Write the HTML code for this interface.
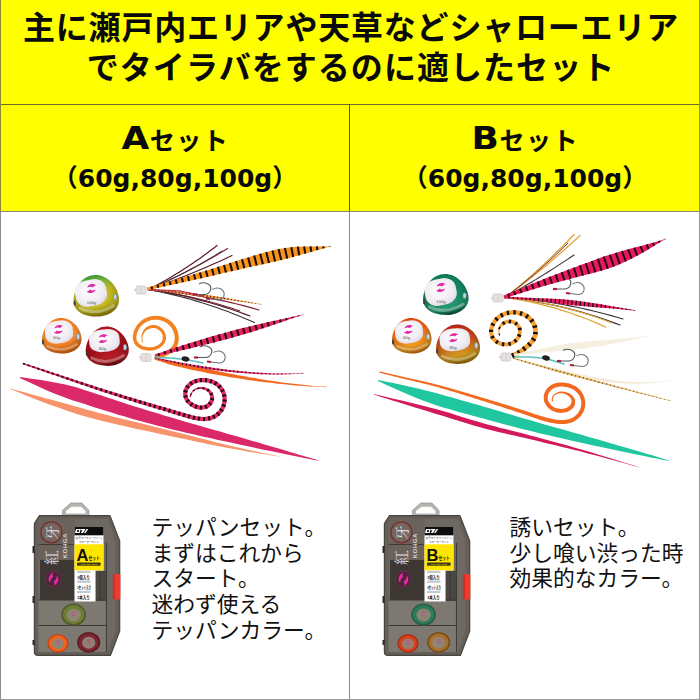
<!DOCTYPE html>
<html lang="ja"><head><meta charset="utf-8">
<style>
html,body{margin:0;padding:0;}
body{width:700px;height:700px;overflow:hidden;background:#fff;position:relative;font-family:"Liberation Sans","Noto Sans CJK JP",sans-serif;color:#0a0a0a;}
#hdr{position:absolute;left:0;top:0;width:700px;height:211px;background:#ffff00;}
.hl{position:absolute;left:0;width:700px;height:1px;background:#6b6b2a;}
.vl{position:absolute;width:1px;background:#777;}
.t1{position:absolute;left:0;width:700px;text-align:center;font-weight:700;font-size:32px;line-height:40px;white-space:nowrap;letter-spacing:0px;}
.sh{position:absolute;width:350px;margin-left:1px;text-align:center;font-weight:700;white-space:nowrap;}
.sh .big{font-size:32px;display:inline-block;transform:scaleX(1.12);margin-right:2px;font-family:"DejaVu Sans","Liberation Sans","Noto Sans CJK JP",sans-serif;}
.sh .kana{font-size:25px;letter-spacing:1.5px;position:relative;top:1px;}
.sub{position:absolute;width:350px;text-align:center;font-weight:700;font-size:25px;white-space:nowrap;font-family:"DejaVu Sans","Liberation Sans","Noto Sans CJK JP",sans-serif;}
.desc{position:absolute;font-size:21.75px;line-height:25.7px;white-space:nowrap;font-weight:400;color:#111;}
</style></head><body>
<div id="hdr"></div>
<div class="t1" style="top:8px;letter-spacing:0.8px;left:1px">主に瀬戸内エリアや天草などシャローエリア</div>
<div class="t1" style="top:48px;letter-spacing:1.05px;left:1px">でタイラバをするのに適したセット</div>
<div class="hl" style="top:104px"></div>
<div class="hl" style="top:211px;background:#8a8a6a"></div>
<div class="vl" style="left:349px;top:104px;height:107px;background:#55552a"></div><div class="vl" style="left:349px;top:211px;height:489px;background:#8a8a8a"></div>
<div class="vl" style="left:0;top:0;height:211px;background:#8a8a30"></div><div class="vl" style="left:0;top:211px;height:489px;background:#8c8c8c"></div>
<div class="vl" style="left:698.5px;top:0;height:211px;width:1.5px;background:#9a9a30"></div><div class="vl" style="left:698.5px;top:211px;height:489px;width:1.5px;background:#999"></div>
<div class="hl" style="top:699px;background:#999"></div>

<svg id="art" width="700" height="700" viewBox="0 0 700 700" style="position:absolute;left:0;top:0">
<defs>
<radialGradient id="decal" cx="0.45" cy="0.4" r="0.7"><stop offset="0" stop-color="#ffffff"/><stop offset="0.7" stop-color="#eeeaf2"/><stop offset="1" stop-color="#d9d3de"/></radialGradient>
<linearGradient id="gGreen" x1="0.3" y1="0" x2="0.55" y2="1"><stop offset="0" stop-color="#2c963a"/><stop offset="0.2" stop-color="#78b436"/><stop offset="0.42" stop-color="#c2b81e"/><stop offset="0.78" stop-color="#ccbf26"/><stop offset="1" stop-color="#9c8c08"/></linearGradient>
<linearGradient id="gOrange" x1="0.3" y1="0" x2="0.55" y2="1"><stop offset="0" stop-color="#f47a1c"/><stop offset="0.6" stop-color="#ff9234"/><stop offset="1" stop-color="#e8690e"/></linearGradient>
<linearGradient id="gRed" x1="0.3" y1="0" x2="0.55" y2="1"><stop offset="0" stop-color="#b8161e"/><stop offset="0.6" stop-color="#a50f18"/><stop offset="0.85" stop-color="#c4232c"/><stop offset="1" stop-color="#7a0a10"/></linearGradient>
<linearGradient id="gTeal" x1="0.3" y1="0" x2="0.55" y2="1"><stop offset="0" stop-color="#0f7a56"/><stop offset="0.6" stop-color="#168a64"/><stop offset="0.85" stop-color="#2aa57c"/><stop offset="1" stop-color="#0a5a40"/></linearGradient>
<linearGradient id="gOrange2" x1="0.3" y1="0" x2="0.55" y2="1"><stop offset="0" stop-color="#e8400e"/><stop offset="0.45" stop-color="#f0701a"/><stop offset="0.8" stop-color="#f5a01e"/><stop offset="1" stop-color="#d8780e"/></linearGradient>
<linearGradient id="gRedGold" x1="0.3" y1="0" x2="0.55" y2="1"><stop offset="0" stop-color="#b8201a"/><stop offset="0.45" stop-color="#c8501a"/><stop offset="0.8" stop-color="#d8a020"/><stop offset="1" stop-color="#a87808"/></linearGradient>
<radialGradient id="shade" cx="0.45" cy="0.4" r="0.62"><stop offset="0.55" stop-color="#000" stop-opacity="0"/><stop offset="1" stop-color="#000" stop-opacity="0.28"/></radialGradient>
<g id="logo" fill="#e22aa8" transform="scale(1 1.12)"><path d="M-4.2 -0.8 C-3.6 -4 1.6 -5 4.8 -2.6 C3.4 -2.7 2.2 -2.2 1.6 -0.9 C0 -1.9 -2.2 -1.8 -4.2 -0.8Z"/><path d="M4 0.9 C3.4 4.1 -1.8 5.1 -5 2.7 C-3.6 2.8 -2.4 2.3 -1.8 1 C-0.2 2 2 1.9 4 0.9Z"/></g>
</defs>

<g>
<path d="M10.4 389 L12.7 390 L15.5 391.1 L18.9 392.5 L22.6 394 L26.7 395.7 L31 397.5 L35.6 399.2 L40.1 401 L44.7 402.8 L49.2 404.4 L53.6 406 L58.1 407.6 L62.5 409.1 L67.1 410.7 L71.8 412.3 L76.7 413.9 L81.9 415.4 L87.3 417 L93 418.6 L99.1 420.2 L105.7 421.8 L112.9 423.6 L120.5 425.3 L128.4 427.1 L136.5 428.9 L144.5 430.6 L152.5 432.3 L160.2 433.9 L167.6 435.5 L174.4 436.9 L180.8 438.3 L186.8 439.6 L192.6 440.8 L198.1 441.9 L203.5 443.1 L208.8 444.2 L214 445.2 L219.2 446.3 L224.4 447.3 L229.7 448.3 L235.3 449.3 L241.2 450.3 L247.3 451.4 L253.4 452.4 L259.3 453.4 L265 454.3 L270.3 455.2 L274.9 455.9 L278.9 456.6 L282 457.1 L282 456.9 L279 456.2 L275 455.4 L270.4 454.5 L265.2 453.4 L259.5 452.2 L253.6 451 L247.6 449.7 L241.6 448.3 L235.8 447 L230.3 445.7 L225 444.5 L219.9 443.2 L214.7 441.9 L209.6 440.6 L204.4 439.3 L199.1 437.9 L193.6 436.5 L187.9 435 L181.9 433.5 L175.6 431.9 L168.8 430.2 L161.5 428.4 L153.8 426.5 L145.9 424.6 L137.9 422.6 L129.9 420.7 L122.1 418.8 L114.5 416.9 L107.4 415.1 L100.9 413.4 L94.8 411.8 L89.2 410.3 L83.8 408.8 L78.7 407.3 L73.7 406 L69 404.6 L64.4 403.3 L59.8 402 L55.3 400.8 L50.8 399.6 L46.2 398.4 L41.4 397.1 L36.7 395.8 L32 394.5 L27.5 393.2 L23.3 392.1 L19.4 391 L15.9 390 L12.9 389.2 L10.6 388.6Z" fill="#f9936b"/>
<path d="M19.9 377.9 L23 379.4 L27.1 381.3 L31.9 383.6 L37.3 386.1 L43.2 388.7 L49.3 391.4 L55.5 394 L61.7 396.3 L67.6 398.5 L73 400.4 L78.2 402 L83.3 403.6 L88.3 405.2 L93.3 406.9 L98.3 408.4 L103.2 410 L108.1 411.6 L113.1 413.1 L118.1 414.7 L123.1 416.1 L128 417.6 L132.8 418.9 L137.4 420.3 L142.1 421.5 L146.7 422.8 L151.6 424.1 L156.6 425.4 L161.9 426.8 L167.5 428.2 L173.6 429.7 L180.2 431.3 L187.2 432.9 L194.6 434.6 L202.3 436.4 L210.1 438.1 L218.1 439.9 L226.1 441.6 L234 443.3 L241.8 445 L249.2 446.6 L256.8 448.2 L264.8 449.9 L273 451.6 L281.3 453.3 L289.3 454.9 L297 456.5 L304.1 458 L310.4 459.2 L315.8 460.3 L320 461.1 L320 460.9 L315.9 459.6 L310.7 458.1 L304.5 456.2 L297.6 454.2 L290.1 451.9 L282.2 449.6 L274.1 447.3 L266.1 444.9 L258.2 442.6 L250.8 440.4 L243.4 438.3 L235.8 436.1 L228 433.9 L220.2 431.6 L212.4 429.4 L204.6 427.2 L197.1 425 L189.8 422.9 L182.9 421 L176.4 419.1 L170.5 417.3 L164.9 415.7 L159.8 414.1 L154.8 412.6 L150.1 411.2 L145.5 409.8 L141 408.3 L136.4 406.9 L131.7 405.4 L126.9 403.9 L121.9 402.3 L117.1 400.7 L112.2 399.1 L107.3 397.5 L102.4 395.8 L97.4 394.2 L92.4 392.5 L87.4 390.9 L82.2 389.2 L77 387.6 L71.3 386.1 L65.2 384.6 L58.8 383.2 L52.1 381.9 L45.6 380.8 L39.2 379.8 L33.3 378.9 L28 378.2 L23.6 377.6 L20.1 377.1Z" fill="#da2868"/>
<path d="M23.5 364.6 L25 365 L26.4 365.5 L27.8 366 L29.2 366.5 L30.6 367 L32.1 367.5 L33.5 368 L34.9 368.5 L36.3 369 L37.7 369.5 L39.1 369.9 L40.6 370.4 L42 370.9 L43.4 371.4 L44.8 371.9 L46.2 372.4 L47.6 372.9 L49.1 373.4 L50.5 373.9 L51.9 374.4 L53.3 374.8 L54.7 375.3 L56.2 375.8 L57.6 376.3 L59 376.8 L60.4 377.3 L61.8 377.8 L63.2 378.3 L64.7 378.8 L66.1 379.3 L67.5 379.8 L68.9 380.3 L70.3 380.7 L71.7 381.2 L73.2 381.7 L74.6 382.2 L76 382.7 L77.4 383.2 L78.8 383.7 L80.2 384.2 L81.7 384.7 L83.1 385.2 L84.5 385.6 L85.9 386.1 L87.3 386.6 L88.8 387.1 L90.2 387.6 L91.6 388.1 L93 388.5 L94.5 389 L95.9 389.5 L97.3 390 L98.7 390.5 L100.1 390.9 L101.6 391.4 L103 391.9 L104.4 392.4 L105.8 392.8 L107.3 393.3 L108.7 393.8 L110.1 394.2 L111.6 394.7 L113 395.2 L114.4 395.6 L115.8 396.1 L117.3 396.5 L118.7 397 L120.1 397.5 L121.6 397.9 L123 398.4 L124.4 398.8 L125.8 399.3 L127.3 399.7 L128.7 400.2 L130.1 400.7 L131.6 401.1 L133 401.6 L134.4 402 L135.9 402.5 L137.3 402.9 L138.7 403.3 L140.2 403.8 L141.6 404.2 L143 404.7 L144.5 405.1 L145.9 405.6 L147.3 406 L148.8 406.4 L150.2 406.9 L151.7 407.3 L153.1 407.7 L154.5 408.2 L156 408.6 L157.4 409 L158.8 409.5 L160.3 409.9 L161.7 410.3 L163.1 410.8 L164.6 411.2 L166 411.6 L167.4 412.1 L168.9 412.5 L170.3 413 L171.7 413.4 L173.2 413.9 L174.6 414.3 L176 414.7 L177.5 415.2 L178.9 415.6 L180.3 416.1 L181.8 416.5 L183.2 416.9 L184.7 417.4 L186.1 417.8 L187.6 418.2 L189 418.6 L190.5 419 L192 419.4 L193.5 419.8 L195 420.1 L196.5 420.4 L198.1 420.6 L199.6 420.8 L201.2 421 L202.8 421.1 L204.4 421 L206 421 L207.6 420.8 L209.2 420.5 L210.8 420.2 L212.4 419.7 L213.9 419.1 L215.4 418.4 L216.9 417.5 L218.2 416.6 L219.5 415.5 L220.7 414.4 L221.8 413.1 L222.8 411.8 L223.7 410.4 L224.5 409 L225.2 407.4 L225.8 405.9 L226.2 404.3 L226.5 402.6 L226.7 401 L226.7 399.3 L226.7 397.7 L226.5 396 L226.1 394.4 L225.6 392.8 L225.1 391.2 L224.3 389.7 L223.5 388.3 L222.6 386.9 L221.5 385.6 L220.4 384.4 L219.1 383.3 L217.8 382.3 L216.4 381.4 L215 380.6 L213.5 379.9 L211.9 379.4 L210.4 378.9 L208.8 378.5 L207.2 378.3 L205.6 378.1 L204 378 L202.3 378 L200.7 378 L199.1 378.2 L197.5 378.5 L195.9 378.9 L194.3 379.4 L192.8 380 L191.3 380.8 L189.8 381.7 L188.5 382.7 L187.3 383.9 L186.1 385.2 L185.1 386.6 L184.3 388.2 L183.7 389.8 L183.3 391.5 L183.1 393.3 L183.2 395.1 L183.5 396.8 L184 398.5 L184.7 400.1 L185.6 401.6 L186.7 403 L187.9 404.2 L189.2 405.3 L190.5 406.3 L191.9 407.1 L193.4 407.9 L194.9 408.5 L196.5 409 L198.2 409.4 L199.8 409.7 L201.6 409.8 L203.3 409.6 L205.1 409.3 L206.8 408.7 L208.3 407.9 L209.8 406.9 L211.1 405.6 L212.3 404.3 L213.2 402.7 L213.8 401 L214.1 399.1 L214.1 397.3 L213.7 395.5 L213.1 393.8 L212.2 392.3 L211.1 390.9 L209.8 389.8 L208.4 388.8 L206.9 388.1 L205.3 387.6 L203.7 387.3 L202.1 387.1 L200.5 387.1 L198.9 387.3 L197.4 387.7 L195.9 388.3 L194.5 389.1 L193.2 390 L192.1 391.2 L191.2 392.5 L190.5 393.9 L189.9 395.4 L189.6 396.9 L189.6 397.3 L190.9 397.4 L190.9 397.1 L191.1 395.7 L191.6 394.4 L192.2 393.1 L193 392 L194 391 L195.2 390.2 L196.4 389.5 L197.8 389.2 L199.2 389 L200.6 389 L201.9 389.1 L203.3 389.4 L204.6 389.8 L205.8 390.4 L206.9 391.1 L207.9 392 L208.7 393 L209.4 394 L209.9 395.2 L210.2 396.3 L210.3 397.5 L210.1 398.7 L209.8 399.8 L209.4 400.8 L208.8 401.8 L208.1 402.8 L207.2 403.6 L206.2 404.3 L205.1 404.8 L203.9 405.2 L202.8 405.5 L201.5 405.6 L200.2 405.5 L199 405.3 L197.7 405 L196.4 404.6 L195.2 404.1 L194 403.5 L192.8 402.8 L191.7 402 L190.7 401.2 L189.9 400.2 L189.1 399.2 L188.4 398.2 L187.9 397 L187.5 395.9 L187.3 394.7 L187.3 393.5 L187.4 392.2 L187.7 391.1 L188.2 389.9 L188.7 388.8 L189.5 387.8 L190.3 386.8 L191.2 385.9 L192.3 385.1 L193.3 384.4 L194.5 383.8 L195.7 383.3 L197 382.9 L198.3 382.6 L199.7 382.4 L201 382.2 L202.4 382.2 L203.8 382.2 L205.2 382.3 L206.6 382.4 L207.9 382.6 L209.3 383 L210.6 383.4 L211.9 383.8 L213.1 384.4 L214.3 385 L215.4 385.7 L216.5 386.5 L217.5 387.4 L218.4 388.4 L219.2 389.4 L219.9 390.5 L220.6 391.7 L221.2 392.9 L221.7 394.1 L222 395.4 L222.3 396.7 L222.5 398 L222.5 399.4 L222.5 400.7 L222.4 402 L222.1 403.3 L221.8 404.6 L221.3 405.9 L220.8 407.1 L220.1 408.3 L219.4 409.4 L218.6 410.5 L217.7 411.4 L216.7 412.4 L215.7 413.2 L214.6 414 L213.5 414.6 L212.2 415.2 L211 415.7 L209.7 416.1 L208.4 416.4 L207 416.6 L205.7 416.8 L204.3 416.9 L202.9 416.9 L201.5 416.8 L200.1 416.7 L198.6 416.5 L197.2 416.3 L195.8 416 L194.4 415.7 L193 415.4 L191.5 415 L190.1 414.6 L188.7 414.2 L187.2 413.8 L185.8 413.4 L184.4 413 L182.9 412.6 L181.5 412.2 L180.1 411.8 L178.6 411.3 L177.2 410.9 L175.7 410.5 L174.3 410.1 L172.9 409.7 L171.4 409.2 L170 408.8 L168.5 408.4 L167.1 408 L165.7 407.6 L164.2 407.1 L162.8 406.7 L161.3 406.3 L159.9 405.9 L158.4 405.5 L157 405.1 L155.6 404.7 L154.1 404.2 L152.7 403.8 L151.2 403.4 L149.8 403 L148.4 402.6 L146.9 402.2 L145.5 401.8 L144 401.3 L142.6 400.9 L141.2 400.5 L139.7 400.1 L138.3 399.7 L136.8 399.2 L135.4 398.8 L134 398.4 L132.5 398 L131.1 397.5 L129.7 397.1 L128.2 396.7 L126.8 396.2 L125.4 395.8 L123.9 395.4 L122.5 394.9 L121.1 394.5 L119.6 394.1 L118.2 393.6 L116.8 393.2 L115.3 392.7 L113.9 392.3 L112.5 391.8 L111 391.4 L109.6 391 L108.2 390.5 L106.7 390.1 L105.3 389.6 L103.9 389.2 L102.4 388.7 L101 388.3 L99.6 387.8 L98.2 387.4 L96.7 386.9 L95.3 386.4 L93.9 386 L92.4 385.5 L91 385.1 L89.6 384.6 L88.2 384.1 L86.7 383.7 L85.3 383.2 L83.9 382.7 L82.5 382.3 L81 381.8 L79.6 381.3 L78.2 380.9 L76.8 380.4 L75.3 379.9 L73.9 379.5 L72.5 379 L71.1 378.5 L69.6 378.1 L68.2 377.6 L66.8 377.1 L65.4 376.7 L64 376.2 L62.5 375.7 L61.1 375.2 L59.7 374.8 L58.3 374.3 L56.8 373.8 L55.4 373.4 L54 372.9 L52.6 372.4 L51.1 371.9 L49.7 371.5 L48.3 371 L46.9 370.5 L45.4 370.1 L44 369.6 L42.6 369.1 L41.2 368.7 L39.7 368.2 L38.3 367.7 L36.9 367.3 L35.5 366.8 L34 366.3 L32.6 365.9 L31.2 365.4 L29.8 364.9 L28.3 364.4 L26.9 364 L25.5 363.5 L24.1 363Z" fill="#e62a68"/>
<path d="M23.5 364.6L24.1 363M28.4 366.2L28.9 364.6M33.2 367.9L33.7 366.2M38 369.6L38.6 367.8M42.8 371.2L43.4 369.4M47.6 372.9L48.3 371M52.5 374.6L53.1 372.6M57.3 376.2L58 374.2M62.1 377.9L62.8 375.8M66.9 379.6L67.7 377.4M71.7 381.2L72.5 379M76.6 382.9L77.3 380.6M81.4 384.6L82.2 382.2M86.2 386.2L87 383.8M91 387.9L91.9 385.3M95.9 389.5L96.7 386.9M100.7 391.1L101.6 388.4M105.6 392.7L106.4 390M110.4 394.3L111.3 391.5M115.3 395.9L116.2 393M120.1 397.5L121.1 394.5M125 399L125.9 396M129.8 400.6L130.8 397.4M134.7 402.1L135.7 398.9M139.6 403.6L140.6 400.3M144.5 405.1L145.5 401.8M149.4 406.6L150.4 403.2M154.2 408.1L155.3 404.6M159.1 409.6L160.2 406M164 411L165.1 407.4M168.9 412.5L170 408.8M173.7 414L174.9 410.2M178.6 415.5L179.8 411.7M183.5 417L184.7 413.1M188.4 418.5L189.5 414.5M193.5 419.8L194.4 415.7M198.6 420.7L199.2 416.6M204 421.1L204.1 416.9M209.5 420.5L208.7 416.3M214.7 418.7L213.1 414.8M219.5 415.5L216.7 412.3M223.2 411.3L219.7 408.9M225.6 406.3L221.7 404.7M226.7 400.7L222.5 400.4M226.3 395.1L222.1 395.8M224.3 389.7L220.6 391.7M221.1 385.2L217.9 387.9M216.8 381.6L214.4 385.1M211.6 379.3L210.3 383.3M206.2 378.2L205.7 382.3M200.7 378.1L201 382.2M195.3 379.1L196.4 383.1M190.2 381.4L192.3 385.1M185.9 385.5L189.3 388.1M183.5 390.7L187.5 392M183.5 396.9L187.6 395.9M186 402.2L189.5 399.8M190.2 406.1L192.8 402.7M195.3 408.6L196.8 404.7M200.8 409.7L201.2 405.5M206.8 408.6L205.2 404.8M211.6 405.1L208.5 402.2M214 399.7L210.2 398.5M212.9 393.5L209.7 394.8M209 389.2L207.1 391.3M203.6 387.2L203.2 389.4M198.2 387.5L198.4 389.1M193.4 389.9L194.1 391M190.3 394.3L191.5 394.8" stroke="#2a0814" stroke-width="2.1" fill="none"/>
<path d="M148 289.5 L151.4 287.8 L154.9 286 L158.3 284.2 L161.8 282.3 L165.2 280.4 L168.7 278.4 L172.1 276.4 L175.6 274.3 L179.1 272.2 L182.5 270 L186 267.8 L189.4 265.5 L192.8 263.2 L196.3 260.8 L199.8 258.4 L203.2 255.9 L206.6 253.4 L210.1 250.8 L213.6 248.2 L217 245.5" stroke="#5a1522" stroke-width="1.2" fill="none" stroke-linecap="round"/>
<path d="M148 289.5 L152 287.8 L156 286.1 L159.9 284.4 L163.9 282.6 L167.9 280.8 L171.8 278.9 L175.8 277 L179.8 275 L183.8 273 L187.8 271 L191.7 268.9 L195.7 266.8 L199.7 264.7 L203.6 262.5 L207.6 260.2 L211.6 258 L215.6 255.7 L219.6 253.3 L223.5 250.9 L227.5 248.5" stroke="#8a2038" stroke-width="1.2" fill="none" stroke-linecap="round"/>
<path d="M148 289.5 L152.2 288.1 L156.4 286.6 L160.6 285.2 L164.8 283.7 L169 282.1 L173.2 280.6 L177.4 279 L181.6 277.3 L185.8 275.7 L190 274 L194.2 272.3 L198.4 270.5 L202.6 268.8 L206.8 267 L211 265.1 L215.2 263.3 L219.4 261.4 L223.6 259.4 L227.8 257.5 L232 255.5" stroke="#5a1522" stroke-width="1.1" fill="none" stroke-linecap="round"/>
<path d="M148 289.5 L151.7 288 L155.4 286.4 L159.1 284.7 L162.8 283.1 L166.5 281.4 L170.2 279.6 L173.9 277.8 L177.6 276 L181.3 274.2 L185 272.2 L188.7 270.3 L192.4 268.3 L196.1 266.3 L199.8 264.2 L203.5 262.1 L207.2 260 L210.9 257.8 L214.6 255.6 L218.3 253.3 L222 251" stroke="#3a3234" stroke-width="1" fill="none" stroke-linecap="round"/>
<path d="M148 289.5 L153.6 290 L159.1 290.5 L164.6 291 L170.2 291.7 L175.8 292.4 L181.3 293.1 L186.8 293.9 L192.4 294.8 L198 295.8 L203.5 296.8 L209.1 297.8 L214.6 298.9 L220.1 300.1 L225.7 301.3 L231.2 302.6 L236.8 304 L242.3 305.4 L247.9 306.9 L253.5 308.4 L259 310" stroke="#8a2038" stroke-width="1.2" fill="none" stroke-linecap="round"/>
<path d="M148 289.5 L153.1 290.3 L158.2 291.1 L163.3 291.9 L168.4 292.9 L173.5 293.9 L178.6 294.9 L183.7 296 L188.8 297.2 L193.9 298.5 L199 299.8 L204.1 301.1 L209.2 302.5 L214.3 304 L219.4 305.5 L224.5 307.1 L229.6 308.8 L234.7 310.5 L239.8 312.3 L244.9 314.1 L250 316" stroke="#5a1522" stroke-width="1.2" fill="none" stroke-linecap="round"/>
<path d="M148 289.5 L153.3 290.5 L158.7 291.5 L164 292.7 L169.3 293.9 L174.6 295.1 L179.9 296.5 L185.3 297.9 L190.6 299.3 L195.9 300.9 L201.2 302.5 L206.6 304.2 L211.9 305.9 L217.2 307.8 L222.6 309.7 L227.9 311.6 L233.2 313.7 L238.5 315.8 L243.8 317.9 L249.2 320.2 L254.5 322.5" stroke="#3a3234" stroke-width="1.1" fill="none" stroke-linecap="round"/>
<path d="M148 289.5 L152.6 290.1 L157.2 290.8 L161.8 291.4 L166.4 292.2 L171 293 L175.6 293.9 L180.2 294.8 L184.8 295.7 L189.4 296.7 L194 297.8 L198.6 298.9 L203.2 300 L207.8 301.2 L212.4 302.4 L217 303.8 L221.6 305.1 L226.2 306.5 L230.8 307.9 L235.4 309.5 L240 311" stroke="#5a1522" stroke-width="1" fill="none" stroke-linecap="round"/>
<path d="M148 290 L153.2 290.5 L158.4 291 L163.8 291.6 L169.1 292.2 L174.5 292.9 L180 293.6 L185.5 294.3 L191.1 295.1 L196.7 295.9 L202.4 296.6 L208.1 297.3 L213.9 298 L219.7 298.8 L225.6 299.6 L231.5 300.3 L237.5 301.2 L243.5 302 L249.6 302.9 L255.8 303.7 L262 304.7 L262 304.3 L255.9 303.2 L249.8 302.1 L243.7 301 L237.7 299.9 L231.7 298.9 L225.8 297.9 L220 297 L214.1 296.1 L208.4 295.2 L202.6 294.4 L197 293.7 L191.3 293 L185.7 292.4 L180.2 291.9 L174.7 291.4 L169.3 290.9 L163.9 290.4 L158.6 289.9 L153.3 289.4 L148 289Z" fill="#f39a30"/>
<path d="M148 290L148 289M151.4 290.3L151.5 289.3M154.9 290.7L155 289.6M158.4 291L158.5 289.9M161.9 291.4L162 290.2M165.4 291.8L165.5 290.5M168.8 292.2L169 290.8M172.3 292.6L172.5 291.2M175.8 293L175.9 291.5M179.2 293.5L179.4 291.8M182.7 294L182.9 292.1M186.2 294.4L186.4 292.5M189.6 294.9L189.9 292.8M193.1 295.4L193.4 293.2M196.6 295.8L196.8 293.7M200 296.3L200.3 294.1M203.5 296.7L203.8 294.6M207 297.2L207.3 295.1M210.5 297.6L210.7 295.6M213.9 298L214.2 296.1M217.4 298.5L217.7 296.6M220.9 298.9L221.1 297.2M224.3 299.4L224.6 297.7M227.8 299.9L228 298.3M231.3 300.3L231.5 298.9M234.7 300.8L234.9 299.5M238.2 301.3L238.4 300M241.7 301.7L241.8 300.7M245.1 302.2L245.3 301.3M248.6 302.7L248.7 301.9M252.1 303.2L252.2 302.5M255.5 303.7L255.6 303.1M259 304.2L259.1 303.8" stroke="#5a1522" stroke-width="1" fill="none"/>
<path d="M148 289.5 L180 291 L203 296" stroke="#c03048" stroke-width="1.4" fill="none" stroke-linecap="round" stroke-dasharray="2 1.2"/>
<path d="M193 294.5 l11 0 c7 0 9 -8 4 -10.5 c-3 -1.5 -7 -1.2 -9 0" stroke="#4f5a66" stroke-width="1.1" fill="none"/>
<path d="M193 294.5 l4 0" stroke="#b0203a" stroke-width="2.2" fill="none"/>
<path d="M206 298.5 l12 1.5 c7 0 8 -8 3 -11 c-3 -1.5 -6 -1 -8.5 0.5" stroke="#6a7580" stroke-width="1.1" fill="none"/>
<path d="M206 298.5 l4 0.5" stroke="#b0203a" stroke-width="2.2" fill="none"/>
<path d="M147.3 290.2 L149.9 289.6 L153.1 288.9 L157 288 L161.3 287.1 L165.9 286.1 L170.9 285 L176 283.9 L181.2 282.7 L186.3 281.6 L191.4 280.5 L196.2 279.4 L200.8 278.4 L205.1 277.4 L209.5 276.4 L213.9 275.4 L218.2 274.3 L222.6 273.3 L226.9 272.3 L231.1 271.3 L235.3 270.4 L239.4 269.4 L243.5 268.5 L247.4 267.6 L251.2 266.8 L254.9 266 L258.5 265.2 L262 264.4 L265.4 263.7 L268.7 263 L271.9 262.3 L275.1 261.6 L278.3 260.9 L281.4 260.1 L284.5 259.3 L287.7 258.4 L291 257.6 L294.4 256.6 L298 255.7 L301.8 254.6 L305.6 253.5 L309.5 252.4 L313.3 251.3 L317 250.3 L320.5 249.3 L323.7 248.4 L326.6 247.6 L329.1 247 L331 246.5 L331 246.3 L329 246.4 L326.4 246.4 L323.5 246.4 L320.1 246.4 L316.5 246.4 L312.7 246.4 L308.7 246.4 L304.6 246.5 L300.5 246.6 L296.5 246.8 L292.7 247.1 L289 247.4 L285.6 247.9 L282.2 248.4 L278.9 249 L275.7 249.7 L272.4 250.4 L269.2 251.3 L266 252.2 L262.7 253.1 L259.4 254.1 L255.9 255.1 L252.4 256.1 L248.8 257.2 L245 258.3 L241.1 259.5 L237.1 260.8 L233.1 262 L228.9 263.4 L224.8 264.7 L220.5 266 L216.3 267.4 L212 268.7 L207.8 270 L203.5 271.3 L199.2 272.6 L194.8 274 L190.1 275.4 L185.1 276.8 L180 278.3 L174.9 279.8 L169.9 281.2 L165 282.6 L160.5 283.9 L156.2 285.1 L152.5 286.2 L149.2 287.1 L146.7 287.8Z" fill="#f7931e"/>
<path d="M152.2 289.1L151.5 286.4M158.3 287.7L157.6 284.7M164.5 286.4L163.6 283M170.6 285L169.7 281.3M176.8 283.7L175.8 279.5M183 282.3L181.8 277.8M189.1 281L187.9 276M195.3 279.6L193.9 274.2M201.4 278.2L199.9 272.4M207.6 276.8L205.9 270.6M213.8 275.4L212 268.7M219.9 274L218 266.8M226 272.5L224 264.9M232.2 271.1L230 263M238.3 269.7L236 261.1M244.4 268.3L242 259.2M250.6 266.9L248.1 257.4M256.7 265.6L254.2 255.6M262.9 264.3L260.2 253.8M269 262.9L266.3 252.1M275.1 261.6L272.5 250.4M281.2 260.1L278.6 249.1M287.2 258.6L284.9 248M293.2 257L291.3 247.2M299.2 255.3L297.8 246.7M305.3 253.6L304.1 246.5M311.3 251.9L310.5 246.4M317.4 250.2L316.9 246.4M323.5 248.4L323.3 246.4M329.7 246.8L329.6 246.3" stroke="#1c1008" stroke-width="2.1" fill="none"/>
<path d="M133.5 290 l2.5 -1.2 l0 2.4z" fill="#ccc"/><rect x="136" y="286" width="10" height="8" rx="1.5" fill="#e6e1e1" stroke="#c4bcbc" stroke-width="0.6"/><path d="M141 286 v8" stroke="#cfc6c6" stroke-width="0.8"/>
<path d="M155.4 359.2 L156.9 358.9 L158.3 358.6 L160 358.3 L161.6 357.8 L163 357.3 L164.6 356.7 L166 355.9 L167.3 355.2 L168.6 354.6 L170.1 353.8 L171.5 352.8 L172.8 351.8 L174 350.6 L175.1 349.4 L176.1 348 L177 346.4 L177.6 344.9 L178.2 343.2 L178.5 341.6 L178.7 339.9 L178.8 338.3 L178.7 336.6 L178.5 335 L178.2 333.4 L177.8 331.7 L177.3 330.2 L176.6 328.7 L175.9 327.2 L175 325.8 L174 324.5 L172.9 323.3 L171.8 322.1 L170.5 321 L169.2 320 L167.8 319.1 L166.4 318.4 L164.9 317.7 L163.4 317.1 L161.8 316.6 L160.2 316.3 L158.6 316 L157 315.9 L155.4 315.8 L153.7 315.9 L152.1 316.1 L150.5 316.4 L148.9 316.8 L147.4 317.4 L145.9 318 L144.4 318.7 L143 319.6 L141.7 320.5 L140.4 321.5 L139.2 322.7 L138.2 323.9 L137.1 325.1 L136.2 326.5 L135.4 327.9 L134.7 329.3 L134 330.8 L133.5 332.4 L133.2 334 L132.9 335.6 L132.8 337.3 L132.9 339 L133.3 340.8 L133.9 342.4 L134.7 344 L135.8 345.4 L137 346.6 L138.4 347.6 L139.8 348.4 L141.3 349.1 L142.9 349.7 L144.5 350.1 L146.1 350.4 L147.7 350.6 L149.3 350.7 L150.9 350.6 L152.6 350.4 L154.2 350.1 L155.7 349.7 L157.3 349.1 L158.8 348.4 L160.2 347.6 L161.5 346.6 L162.8 345.4 L163.9 344.1 L164.8 342.6 L165.4 341 L165.9 339.3 L166 337.6 L165.8 335.8 L165.5 334.2 L164.9 332.6 L164.1 331.1 L163.1 329.7 L161.9 328.4 L160.6 327.4 L159.1 326.5 L157.6 325.8 L155.9 325.3 L154.3 325.1 L152.6 325.1 L150.9 325.3 L149.2 325.7 L147.7 326.4 L146.3 327.3 L145 328.4 L144 329.7 L143.1 331.1 L142.4 332.5 L141.9 334 L141.6 335.6 L141.5 337.2 L141.6 338.7 L141.8 340.3 L142.2 341.8 L142.8 342.8 L143.5 342.4 L143 341.5 L142.7 340.1 L142.4 338.7 L142.4 337.2 L142.7 335.8 L143.2 334.5 L143.9 333.2 L144.7 332.1 L145.6 331.1 L146.6 330.2 L147.8 329.5 L149 329 L150.2 328.5 L151.4 328.2 L152.7 328 L154 328.1 L155.3 328.3 L156.5 328.6 L157.7 329.2 L158.8 329.9 L159.8 330.7 L160.7 331.6 L161.4 332.7 L162 333.8 L162.5 335 L162.7 336.3 L162.8 337.6 L162.7 338.8 L162.4 340 L161.9 341.2 L161.3 342.2 L160.4 343.2 L159.5 344.1 L158.4 344.9 L157.2 345.5 L156 346.1 L154.7 346.5 L153.4 346.9 L152.1 347.1 L150.7 347.3 L149.3 347.3 L148 347.3 L146.6 347.1 L145.3 346.8 L143.9 346.5 L142.7 346 L141.5 345.4 L140.3 344.7 L139.3 343.9 L138.4 343 L137.6 342.1 L137 341 L136.6 339.8 L136.4 338.6 L136.4 337.3 L136.4 336 L136.7 334.7 L137 333.4 L137.4 332.1 L137.9 330.9 L138.6 329.6 L139.3 328.4 L140 327.3 L140.9 326.3 L141.9 325.3 L142.8 324.3 L143.9 323.5 L145.1 322.7 L146.2 322 L147.4 321.4 L148.7 320.9 L150 320.4 L151.3 320.1 L152.7 319.9 L154.1 319.7 L155.4 319.7 L156.8 319.7 L158.1 319.8 L159.5 320 L160.8 320.4 L162.1 320.8 L163.4 321.3 L164.6 321.8 L165.8 322.5 L166.9 323.2 L168 324.1 L169 325 L170 325.9 L170.8 327 L171.7 328.1 L172.4 329.2 L173 330.4 L173.5 331.7 L173.9 332.9 L174.3 334.2 L174.5 335.6 L174.6 336.9 L174.7 338.2 L174.6 339.6 L174.4 340.9 L174.1 342.2 L173.7 343.4 L173.2 344.6 L172.6 345.7 L171.8 346.7 L170.9 347.7 L170 348.6 L169 349.4 L167.9 350.2 L166.7 350.8 L165.4 351.4 L164 352.1 L162.8 352.7 L161.5 353.2 L160.2 353.7 L158.9 354.1 L157.6 354.3 L156.1 354.6 L154.6 354.8Z" fill="#f58220"/>
<path d="M154.7 359.7 L158.1 360.7 L161.6 361.8 L165.1 362.9 L168.7 364.2 L172.5 365.2 L176.3 366.2 L180.2 367.1 L184.2 368.1 L188.3 369 L192.4 369.9 L196.6 370.8 L200.8 371.6 L205.1 372.5 L209.4 373.4 L213.8 374.2 L218.2 375 L222.6 375.8 L227.1 376.6 L231.6 377.4 L236.2 378.1 L240.7 378.8 L245.3 379.5 L249.9 380.2 L254.5 380.8 L259.1 381.5 L263.7 382 L268.3 382.6 L272.9 383.1 L277.5 383.7 L282.1 384.1 L286.7 384.6 L291.2 385 L295.7 385.4 L300.2 385.7 L304.7 386.1 L309.2 386.4 L313.6 386.6 L317.9 386.8 L322.2 387 L326.5 387.2 L326.5 386.8 L322.3 386.5 L317.9 386.2 L313.6 385.9 L309.2 385.5 L304.8 385.1 L300.3 384.6 L295.9 384.1 L291.4 383.5 L286.8 383 L282.3 382.4 L277.7 381.7 L273.2 381.1 L268.6 380.4 L264 379.7 L259.5 378.9 L254.9 378.1 L250.3 377.4 L245.8 376.6 L241.2 375.7 L236.7 374.9 L232.2 374 L227.7 373.2 L223.3 372.3 L218.9 371.4 L214.5 370.5 L210.2 369.6 L205.9 368.7 L201.6 367.7 L197.4 366.8 L193.3 365.9 L189.2 364.9 L185.2 364 L181.2 363.1 L177.3 362.1 L173.5 361.2 L169.7 360.4 L166 359.7 L162.3 359 L158.8 358.2 L155.3 357.3Z" fill="#f4671c"/>
<path d="M154.9 358.6 L158.3 359.4 L161.7 360.2 L165.2 361 L168.8 361.7 L172.4 362.5 L176 363.3 L179.7 364.1 L183.4 364.8 L187.1 365.6 L190.9 366.3 L194.7 367 L198.5 367.7 L202.4 368.3 L206.3 368.9 L210.2 369.5 L214.1 370 L218 370.5 L221.9 371 L225.8 371.5 L229.8 371.9 L233.7 372.3 L237.6 372.7 L241.5 373 L245.4 373.3 L249.3 373.6 L253.2 373.8 L257.1 374 L260.9 374.2 L264.7 374.3 L268.5 374.4 L272.2 374.5 L275.9 374.5 L279.6 374.5 L283.2 374.4 L286.8 374.3 L290.4 374.2 L293.9 374 L297.3 373.8 L300.7 373.5 L304 373.2 L304 372.8 L300.7 373.1 L297.3 373.3 L293.8 373.4 L290.3 373.5 L286.8 373.6 L283.2 373.6 L279.6 373.5 L275.9 373.5 L272.2 373.4 L268.5 373.2 L264.7 373 L261 372.8 L257.1 372.6 L253.3 372.3 L249.4 372 L245.6 371.6 L241.7 371.2 L237.8 370.8 L233.9 370.4 L230 370 L226.1 369.5 L222.2 369 L218.3 368.5 L214.4 367.9 L210.5 367.3 L206.6 366.8 L202.7 366.2 L198.9 365.5 L195.1 365 L191.2 364.4 L187.5 363.8 L183.7 363.1 L180 362.5 L176.3 361.8 L172.7 361.1 L169.1 360.4 L165.5 359.7 L162 358.9 L158.5 358.2 L155.1 357.4Z" fill="#e62a68"/>
<path d="M154.9 358.6L155.1 357.4M158.8 359.5L159 358.3M162.7 360.4L162.9 359.1M166.6 361.3L166.9 360M170.5 362.1L170.8 360.8M174.4 363L174.7 361.5M178.3 363.8L178.6 362.2M182.2 364.6L182.6 362.9M186.2 365.4L186.5 363.6M190.1 366.2L190.4 364.2M194 366.9L194.4 364.9M198 367.6L198.3 365.5M201.9 368.3L202.3 366.1M205.9 368.9L206.2 366.7M209.9 369.4L210.2 367.3M213.8 370L214.1 367.9M217.8 370.5L218.1 368.4M221.8 371L222 369M225.7 371.5L226 369.5M229.7 371.9L230 370M233.7 372.3L233.9 370.4M237.7 372.7L237.9 370.9M241.7 373L241.9 371.3M245.7 373.3L245.8 371.6M249.7 373.6L249.8 372M253.7 373.9L253.8 372.3M257.7 374.1L257.8 372.6M261.7 374.2L261.8 372.9M265.7 374.3L265.8 373.1M269.7 374.4L269.7 373.3M273.7 374.5L273.7 373.4M277.7 374.5L277.7 373.5M281.7 374.4L281.7 373.6M285.7 374.3L285.7 373.6M289.7 374.2L289.7 373.5M293.7 374L293.7 373.4M297.7 373.7L297.7 373.2M301.7 373.4L301.7 373" stroke="#2a0814" stroke-width="1.2" fill="none"/>
<path d="M156 357.5 L170 358 L186 359.5 L203 363" stroke="#5cc0c0" stroke-width="1.5" fill="none" stroke-linecap="round"/>
<ellipse cx="185.5" cy="359" rx="4" ry="2.5" fill="#222" transform="rotate(12 185.5 359)"/>
<path d="M194 357.5 l11 0 c7 0 9 -8 4 -10.5 c-3 -1.5 -7 -1.2 -9 0" stroke="#4f5a66" stroke-width="1.1" fill="none"/>
<path d="M194 357.5 l4 0" stroke="#b0203a" stroke-width="2.2" fill="none"/>
<path d="M207 361.5 l12 1.5 c7 0 8 -8 3 -11 c-3 -1.5 -6 -1 -8.5 0.5" stroke="#6a7580" stroke-width="1.1" fill="none"/>
<path d="M207 361.5 l4 0.5" stroke="#b0203a" stroke-width="2.2" fill="none"/>
<path d="M155.3 356.6 L157.5 356.1 L160.1 355.4 L163.2 354.7 L166.7 353.9 L170.5 353 L174.6 352.1 L178.8 351.1 L183.2 350 L187.7 349 L192.1 347.9 L196.5 346.8 L200.8 345.8 L205 344.7 L209.5 343.6 L214 342.5 L218.7 341.3 L223.4 340 L228.1 338.8 L232.9 337.5 L237.6 336.1 L242.3 334.8 L246.9 333.4 L251.4 332 L255.7 330.7 L260.1 329.3 L264.7 327.8 L269.4 326.2 L274.1 324.6 L278.7 323.1 L283.3 321.5 L287.6 320 L291.7 318.6 L295.5 317.3 L298.8 316.2 L301.7 315.3 L304 314.5 L304 314.3 L301.6 314.8 L298.6 315.5 L295.2 316.3 L291.3 317.1 L287.1 318 L282.6 319 L277.9 320 L273.1 321.1 L268.3 322.1 L263.5 323.2 L258.8 324.3 L254.3 325.3 L249.8 326.4 L245.3 327.5 L240.6 328.6 L235.9 329.8 L231.1 331.1 L226.4 332.4 L221.7 333.7 L217 335 L212.4 336.3 L207.8 337.6 L203.5 338.9 L199.2 340.2 L195 341.5 L190.7 342.8 L186.3 344.2 L182 345.6 L177.7 347 L173.5 348.3 L169.6 349.6 L165.9 350.8 L162.5 351.9 L159.4 352.9 L156.8 353.7 L154.7 354.4Z" fill="#e8245e"/>
<path d="M159.2 355.7L158.5 353.2M165.3 354.2L164.5 351.2M171.5 352.8L170.5 349.3M177.6 351.4L176.5 347.3M183.8 349.9L182.5 345.4M189.9 348.4L188.5 343.5M196 347L194.5 341.7M202.1 345.5L200.6 339.8M208.2 343.9L206.6 338M214.3 342.4L212.7 336.2M220.4 340.8L218.7 334.5M226.5 339.2L224.8 332.8M232.6 337.5L230.9 331.2M238.7 335.8L237 329.6M244.7 334.1L243.1 328M250.8 332.2L249.2 326.5M256.8 330.3L255.3 325.1M262.8 328.4L261.5 323.7M268.8 326.4L267.6 322.3M274.7 324.4L273.8 320.9M280.7 322.4L279.9 319.6M286.7 320.3L286.1 318.3M292.7 318.3L292.3 316.9M298.6 316.3L298.4 315.5" stroke="#2a0814" stroke-width="2.1" fill="none"/>
<path d="M138.5 357.5 l2.5 -1.2 l0 2.4z" fill="#ccc"/><rect x="141" y="353.5" width="10" height="8" rx="1.5" fill="#e6e1e1" stroke="#c4bcbc" stroke-width="0.6"/><path d="M146 353.5 v8" stroke="#cfc6c6" stroke-width="0.8"/>
<path d="M73.5 299.9 C74.4 286.6 83.5 275 95.3 275 C107.2 275 117.6 285.8 119 298.2 C119.9 309.9 108.1 316.5 97.2 316.5 C85.3 316.5 73.5 312.4 73.5 299.9Z" fill="url(#gGreen)"/>
<path d="M73.5 299.9 C74.4 286.6 83.5 275 95.3 275 C107.2 275 117.6 285.8 119 298.2 C119.9 309.9 108.1 316.5 97.2 316.5 C85.3 316.5 73.5 312.4 73.5 299.9Z" fill="url(#shade)"/>
<path d="M79.9 308.2 Q96.2 316.5 113.5 305.7" stroke="#fff" stroke-opacity="0.32" stroke-width="3.1" fill="none" stroke-linecap="round"/>
<rect x="75.2" y="279.8" width="31.6" height="26.4" rx="12.6" ry="10.6" transform="rotate(-12 91 293)" fill="url(#decal)"/>
<g transform="translate(91.5 288.5)"><use href="#logo"/></g>
<text x="91.5" y="303.5" font-size="4.2" fill="#555" text-anchor="middle" font-family="Liberation Sans, sans-serif">100g</text>
<ellipse cx="115.1" cy="297" rx="1.7" ry="3" fill="#b8d8e8" stroke="#678" stroke-width="0.5"/>
<ellipse cx="74.6" cy="303.2" rx="1" ry="2.6" fill="#3a3a3a"/>
<path d="M42 339.3 C42.8 327.9 50.7 318 61 318 C71.2 318 80.3 327.2 81.5 337.9 C82.3 347.8 72 353.5 62.5 353.5 C52.3 353.5 42 349.9 42 339.3Z" fill="url(#gOrange)"/>
<path d="M42 339.3 C42.8 327.9 50.7 318 61 318 C71.2 318 80.3 327.2 81.5 337.9 C82.3 347.8 72 353.5 62.5 353.5 C52.3 353.5 42 349.9 42 339.3Z" fill="url(#shade)"/>
<path d="M47.5 346.4 Q61.8 353.5 76.8 344.3" stroke="#fff" stroke-opacity="0.32" stroke-width="2.7" fill="none" stroke-linecap="round"/>
<rect x="45" y="320.8" width="28" height="22.4" rx="11.2" ry="9" transform="rotate(-8 59 332)" fill="url(#decal)"/>
<g transform="translate(58.6 329.3)"><use href="#logo"/></g>
<text x="56.5" y="339" font-size="4.2" fill="#555" text-anchor="middle" font-family="Liberation Sans, sans-serif">60g</text>
<ellipse cx="78.1" cy="336.8" rx="1.7" ry="3" fill="#b8d8e8" stroke="#678" stroke-width="0.5"/>
<ellipse cx="43" cy="342.1" rx="1" ry="2.6" fill="#3a3a3a"/>
<path d="M85.7 350.1 C86.6 337.5 95.2 326.4 106.3 326.4 C117.5 326.4 127.4 336.7 128.7 348.5 C129.6 359.6 118.4 365.9 108.1 365.9 C96.9 365.9 85.7 361.9 85.7 350.1Z" fill="url(#gRed)"/>
<path d="M85.7 350.1 C86.6 337.5 95.2 326.4 106.3 326.4 C117.5 326.4 127.4 336.7 128.7 348.5 C129.6 359.6 118.4 365.9 108.1 365.9 C96.9 365.9 85.7 361.9 85.7 350.1Z" fill="url(#shade)"/>
<path d="M91.7 358 Q107.2 365.9 123.5 355.6" stroke="#fff" stroke-opacity="0.32" stroke-width="3" fill="none" stroke-linecap="round"/>
<rect x="89.2" y="329.4" width="30.4" height="22.4" rx="12.2" ry="9" transform="rotate(-6 104.4 340.6)" fill="url(#decal)"/>
<g transform="translate(103 338.6)"><use href="#logo"/></g>
<text x="102.5" y="349.5" font-size="4.2" fill="#555" text-anchor="middle" font-family="Liberation Sans, sans-serif">80g</text>
<ellipse cx="125" cy="347.3" rx="1.7" ry="3" fill="#b8d8e8" stroke="#678" stroke-width="0.5"/>
<ellipse cx="86.8" cy="353.3" rx="1" ry="2.6" fill="#3a3a3a"/>
</g>
<g transform="translate(350 0)">
<path d="M23.7 394.5 L27.4 395.7 L32.1 397.2 L37.8 399 L44.1 401 L50.9 403.1 L58 405.3 L65 407.5 L72 409.6 L78.5 411.6 L84.4 413.4 L89.8 415 L95 416.6 L100.1 418.2 L105.1 419.8 L110 421.3 L114.8 422.8 L119.7 424.2 L124.5 425.7 L129.4 427.1 L134.4 428.4 L139.4 429.7 L144.4 431 L149.3 432.2 L154.3 433.3 L159.2 434.4 L164.2 435.6 L169.2 436.7 L174.2 437.8 L179.3 439 L184.6 440.2 L189.9 441.5 L195.3 442.9 L200.9 444.2 L206.5 445.6 L212.1 447 L217.8 448.3 L223.4 449.7 L229 451.1 L234.4 452.5 L239.8 453.9 L245.2 455.3 L250.9 456.8 L256.8 458.4 L262.6 460 L268.3 461.6 L273.7 463.1 L278.8 464.5 L283.2 465.7 L287 466.8 L290 467.6 L290 467.4 L287.1 466.5 L283.3 465.3 L278.9 463.9 L273.9 462.4 L268.6 460.7 L262.9 459 L257.1 457.2 L251.3 455.4 L245.7 453.7 L240.2 452.1 L234.9 450.6 L229.5 449 L224 447.4 L218.5 445.8 L212.9 444.3 L207.3 442.7 L201.7 441.2 L196.2 439.7 L190.7 438.2 L185.4 436.8 L180.2 435.4 L175.1 434.1 L170.1 432.8 L165.1 431.6 L160.2 430.3 L155.3 429.1 L150.4 427.9 L145.5 426.6 L140.6 425.3 L135.6 424 L130.7 422.6 L125.8 421.1 L121 419.7 L116.2 418.2 L111.4 416.7 L106.5 415.2 L101.5 413.6 L96.4 412.1 L91.1 410.6 L85.6 409 L79.6 407.4 L73 405.7 L66 404 L58.8 402.2 L51.6 400.5 L44.7 398.9 L38.2 397.4 L32.5 396 L27.6 394.9 L23.9 394.1Z" fill="#d3195c"/>
<path d="M27.9 380.9 L31.2 382.4 L35.4 384.4 L40.5 386.7 L46.2 389.3 L52.3 392 L58.7 394.8 L65.2 397.5 L71.6 400.1 L77.7 402.3 L83.3 404.3 L88.6 406.1 L93.8 407.7 L98.9 409.1 L103.9 410.6 L108.8 411.9 L113.7 413.3 L118.6 414.6 L123.5 415.9 L128.5 417.3 L133.4 418.6 L138.3 419.9 L143 421.2 L147.7 422.5 L152.3 423.7 L156.9 425 L161.7 426.2 L166.7 427.5 L172 428.9 L177.6 430.3 L183.7 431.8 L190.3 433.4 L197.5 435.1 L205 436.8 L212.8 438.6 L220.9 440.4 L228.9 442.2 L236.9 443.9 L244.7 445.7 L252.2 447.3 L259.3 448.8 L266.2 450.3 L273.3 451.8 L280.5 453.3 L287.5 454.7 L294.3 456.1 L300.7 457.4 L306.7 458.6 L311.9 459.7 L316.4 460.5 L320 461.1 L320 460.9 L316.6 459.7 L312.2 458.4 L307.1 456.8 L301.3 455.1 L295 453.2 L288.4 451.3 L281.5 449.3 L274.5 447.2 L267.5 445.2 L260.7 443.2 L253.8 441.2 L246.4 439.1 L238.7 436.9 L230.8 434.6 L222.9 432.4 L215 430.1 L207.3 428 L199.8 425.9 L192.8 423.9 L186.3 422 L180.3 420.3 L174.8 418.7 L169.6 417.2 L164.7 415.7 L159.9 414.3 L155.3 412.9 L150.8 411.6 L146.2 410.2 L141.5 408.8 L136.6 407.4 L131.6 406 L126.7 404.6 L121.8 403.2 L116.9 401.8 L112 400.4 L107.1 399 L102.2 397.6 L97.1 396.2 L92 394.7 L86.7 393.3 L81 391.8 L74.7 390.2 L68.1 388.6 L61.2 387 L54.4 385.5 L47.9 384.1 L41.8 382.8 L36.3 381.7 L31.7 380.8 L28.1 380.1Z" fill="#1fc6a0"/>
<path d="M29.3 372.7 L30.8 373.1 L32.2 373.4 L33.7 373.8 L35.1 374.2 L36.6 374.5 L38.1 374.9 L39.5 375.3 L41 375.6 L42.4 376 L43.9 376.4 L45.3 376.8 L46.8 377.1 L48.2 377.5 L49.7 377.8 L51.2 378.2 L52.6 378.6 L54.1 378.9 L55.5 379.3 L57 379.6 L58.5 380 L59.9 380.3 L61.4 380.6 L62.8 381 L64.3 381.3 L65.8 381.7 L67.2 382 L68.7 382.3 L70.1 382.7 L71.6 383 L73.1 383.4 L74.5 383.7 L76 384.1 L77.4 384.4 L78.9 384.8 L80.3 385.2 L81.8 385.6 L83.2 385.9 L84.6 386.3 L86.1 386.7 L87.5 387.1 L89 387.5 L90.4 388 L91.8 388.4 L93.3 388.8 L94.7 389.2 L96.2 389.6 L97.6 390.1 L99 390.5 L100.5 390.9 L101.9 391.3 L103.3 391.8 L104.8 392.2 L106.2 392.6 L107.6 393.1 L109.1 393.5 L110.5 394 L111.9 394.4 L113.4 394.8 L114.8 395.3 L116.2 395.7 L117.7 396.2 L119.1 396.6 L120.5 397.1 L122 397.5 L123.4 398 L124.8 398.4 L126.3 398.9 L127.7 399.3 L129.1 399.8 L130.5 400.2 L132 400.7 L133.4 401.1 L134.8 401.6 L136.3 402 L137.7 402.5 L139.1 402.9 L140.6 403.4 L142 403.8 L143.4 404.3 L144.8 404.7 L146.3 405.2 L147.7 405.7 L149.1 406.1 L150.6 406.6 L152 407 L153.4 407.5 L154.8 408 L156.3 408.4 L157.7 408.9 L159.1 409.3 L160.5 409.8 L162 410.3 L163.4 410.8 L164.8 411.2 L166.2 411.7 L167.6 412.2 L169.1 412.6 L170.5 413.1 L171.9 413.6 L173.3 414.1 L174.7 414.6 L176.1 415.1 L177.6 415.6 L179 416 L180.4 416.5 L181.8 417 L183.2 417.5 L184.7 418 L186.1 418.5 L187.5 419 L189 419.4 L190.4 419.9 L191.8 420.4 L193.3 420.8 L194.7 421.2 L196.2 421.6 L197.7 422 L199.2 422.4 L200.7 422.7 L202.2 423 L203.7 423.3 L205.2 423.6 L206.8 423.7 L208.3 423.9 L209.9 424 L211.5 424.1 L213.1 424.1 L214.7 423.9 L216.3 423.8 L217.9 423.5 L219.4 423.1 L221 422.7 L222.6 422.1 L224.1 421.4 L225.5 420.6 L226.9 419.6 L228.1 418.6 L229.3 417.5 L230.5 416.3 L231.5 415 L232.4 413.6 L233.2 412.2 L233.9 410.6 L234.5 409 L234.9 407.4 L235.2 405.8 L235.3 404.1 L235.3 402.4 L235.1 400.8 L234.8 399.2 L234.4 397.5 L233.8 395.9 L233.1 394.5 L232.3 393 L231.4 391.6 L230.3 390.3 L229.2 389.2 L228 388 L226.6 387 L225.2 386.1 L223.8 385.4 L222.3 384.7 L220.8 384.1 L219.3 383.6 L217.7 383.2 L216.1 382.9 L214.5 382.7 L212.9 382.6 L211.3 382.5 L209.7 382.6 L208 382.8 L206.4 383.1 L204.8 383.5 L203.2 384.1 L201.7 384.8 L200.2 385.7 L198.9 386.8 L197.6 388 L196.5 389.3 L195.6 390.7 L194.8 392.3 L194.2 393.9 L193.8 395.6 L193.7 397.4 L193.8 399.1 L194.1 400.9 L194.6 402.6 L195.4 404.1 L196.3 405.6 L197.4 407 L198.6 408.2 L199.9 409.2 L201.3 410.2 L202.8 411 L204.3 411.6 L205.9 412.2 L207.5 412.6 L209.2 412.8 L210.9 412.9 L212.5 412.8 L214.2 412.6 L215.9 412.2 L217.5 411.7 L219 411 L220.5 410.1 L221.9 409 L223.2 407.7 L224.2 406.2 L224.9 404.4 L225.2 402.5 L225.1 400.6 L224.6 398.9 L223.7 397.2 L222.6 395.9 L221.4 394.7 L220 393.8 L218.5 393 L217 392.4 L215.5 392 L213.9 391.7 L212.3 391.5 L210.7 391.6 L209.1 391.8 L207.6 392.3 L206.1 392.9 L204.8 393.8 L203.6 394.8 L202.6 396.1 L202 397.7 L201.8 399.3 L201.8 400.9 L202 401.6 L203.1 401.2 L203 400.7 L203 399.3 L203.1 398 L203.6 396.7 L204.4 395.6 L205.5 394.7 L206.7 394 L208 393.5 L209.4 393.2 L210.8 393.2 L212.2 393.3 L213.5 393.6 L214.9 394 L216.2 394.6 L217.4 395.2 L218.5 396 L219.5 396.8 L220.3 397.8 L221 398.9 L221.4 400 L221.6 401.1 L221.5 402.2 L221.2 403.2 L220.7 404.2 L220.1 405.2 L219.2 406 L218.2 406.8 L217.2 407.4 L216 408 L214.8 408.4 L213.5 408.7 L212.2 408.8 L210.9 408.9 L209.6 408.8 L208.3 408.6 L207 408.3 L205.7 407.9 L204.5 407.4 L203.4 406.8 L202.3 406 L201.3 405.2 L200.4 404.3 L199.6 403.3 L198.9 402.2 L198.4 401.1 L198 399.9 L197.8 398.7 L197.7 397.5 L197.8 396.2 L198.1 395 L198.5 393.8 L199 392.7 L199.7 391.7 L200.6 390.7 L201.5 389.8 L202.5 389 L203.6 388.3 L204.8 387.8 L206 387.3 L207.3 387 L208.6 386.7 L209.9 386.6 L211.3 386.5 L212.7 386.6 L214.1 386.7 L215.5 386.9 L216.8 387.1 L218.2 387.4 L219.5 387.9 L220.8 388.3 L222 388.9 L223.2 389.6 L224.3 390.3 L225.4 391.1 L226.4 392 L227.3 393 L228.2 394 L228.9 395.1 L229.6 396.3 L230.1 397.5 L230.6 398.7 L230.9 400 L231.2 401.3 L231.3 402.7 L231.3 404 L231.2 405.3 L231 406.6 L230.6 407.9 L230.2 409.1 L229.7 410.3 L229 411.5 L228.3 412.6 L227.5 413.7 L226.5 414.6 L225.5 415.6 L224.5 416.4 L223.4 417.2 L222.2 417.8 L221 418.4 L219.7 418.9 L218.4 419.3 L217.1 419.6 L215.7 419.8 L214.3 420 L212.9 420.1 L211.5 420.1 L210.1 420 L208.7 419.9 L207.2 419.8 L205.8 419.6 L204.4 419.4 L202.9 419.1 L201.5 418.8 L200.1 418.5 L198.7 418.1 L197.2 417.8 L195.8 417.4 L194.4 417 L193 416.6 L191.6 416.2 L190.1 415.7 L188.7 415.3 L187.3 414.8 L185.9 414.4 L184.4 413.9 L183 413.4 L181.6 413 L180.2 412.5 L178.7 412 L177.3 411.6 L175.9 411.1 L174.5 410.6 L173 410.2 L171.6 409.7 L170.2 409.2 L168.7 408.8 L167.3 408.3 L165.9 407.9 L164.4 407.4 L163 407 L161.6 406.5 L160.1 406.1 L158.7 405.6 L157.3 405.2 L155.8 404.8 L154.4 404.3 L153 403.9 L151.5 403.4 L150.1 403 L148.7 402.6 L147.2 402.1 L145.8 401.7 L144.4 401.3 L142.9 400.8 L141.5 400.4 L140 400 L138.6 399.5 L137.2 399.1 L135.7 398.7 L134.3 398.2 L132.9 397.8 L131.4 397.4 L130 396.9 L128.5 396.5 L127.1 396.1 L125.7 395.7 L124.2 395.2 L122.8 394.8 L121.4 394.4 L119.9 394 L118.5 393.5 L117 393.1 L115.6 392.7 L114.2 392.3 L112.7 391.8 L111.3 391.4 L109.8 391 L108.4 390.6 L106.9 390.2 L105.5 389.7 L104.1 389.3 L102.6 388.9 L101.2 388.5 L99.7 388.1 L98.3 387.7 L96.8 387.3 L95.4 386.9 L93.9 386.5 L92.5 386.1 L91 385.7 L89.6 385.3 L88.1 384.9 L86.7 384.5 L85.2 384.2 L83.8 383.8 L82.3 383.4 L80.9 383.1 L79.4 382.7 L77.9 382.3 L76.5 382 L75 381.7 L73.5 381.3 L72.1 381 L70.6 380.7 L69.1 380.4 L67.7 380.1 L66.2 379.7 L64.7 379.4 L63.3 379.1 L61.8 378.8 L60.3 378.5 L58.9 378.2 L57.4 377.8 L55.9 377.5 L54.5 377.2 L53 376.8 L51.6 376.5 L50.1 376.2 L48.6 375.8 L47.2 375.5 L45.7 375.1 L44.3 374.8 L42.8 374.5 L41.3 374.1 L39.9 373.8 L38.4 373.4 L37 373.1 L35.5 372.7 L34 372.4 L32.6 372 L31.1 371.7 L29.7 371.3Z" fill="#f26a21"/>
<path d="M155 297.5 L158.4 294.8 L161.9 292.1 L165.3 289.3 L168.8 286.5 L172.2 283.6 L175.7 280.7 L179.2 277.7 L182.6 274.7 L186.1 271.6 L189.5 268.5 L192.9 265.3 L196.4 262.1 L199.9 258.8 L203.3 255.5 L206.8 252.1 L210.2 248.7 L213.6 245.2 L217.1 241.7 L220.6 238.1 L224 234.5" stroke="#e0a63c" stroke-width="1.4" fill="none" stroke-linecap="round"/>
<path d="M155 297.5 L158.7 294.8 L162.5 292 L166.2 289.2 L170 286.4 L173.8 283.5 L177.5 280.6 L181.2 277.6 L185 274.6 L188.8 271.6 L192.5 268.5 L196.2 265.4 L200 262.2 L203.8 259 L207.5 255.8 L211.2 252.5 L215 249.2 L218.8 245.8 L222.5 242.4 L226.2 239 L230 235.5" stroke="#e0a63c" stroke-width="1.3" fill="none" stroke-linecap="round"/>
<path d="M155 297.5 L158.4 295.6 L161.9 293.6 L165.3 291.6 L168.8 289.6 L172.2 287.6 L175.7 285.6 L179.2 283.5 L182.6 281.5 L186.1 279.4 L189.5 277.2 L192.9 275.1 L196.4 273 L199.9 270.8 L203.3 268.6 L206.8 266.4 L210.2 264.1 L213.6 261.9 L217.1 259.6 L220.6 257.3 L224 255" stroke="#3a3234" stroke-width="1.1" fill="none" stroke-linecap="round"/>
<path d="M155 297.5 L158.1 295.2 L161.3 292.8 L164.4 290.3 L167.6 287.9 L170.8 285.4 L173.9 282.8 L177 280.2 L180.2 277.6 L183.4 275 L186.5 272.2 L189.6 269.5 L192.8 266.7 L195.9 263.9 L199.1 261 L202.2 258.1 L205.4 255.2 L208.6 252.2 L211.7 249.2 L214.9 246.1 L218 243" stroke="#7a2a3a" stroke-width="1" fill="none" stroke-linecap="round"/>
<path d="M155 297.5 L160.8 298.1 L166.5 298.8 L172.2 299.6 L178 300.4 L183.8 301.4 L189.5 302.4 L195.2 303.5 L201 304.7 L206.8 305.9 L212.5 307.2 L218.2 308.7 L224 310.2 L229.8 311.7 L235.5 313.4 L241.2 315.1 L247 316.9 L252.8 318.8 L258.5 320.8 L264.2 322.9 L270 325" stroke="#3a3234" stroke-width="1.2" fill="none" stroke-linecap="round"/>
<path d="M155 297.5 L160 298.2 L165.1 299 L170.1 299.9 L175.1 300.8 L180.2 301.9 L185.2 303 L190.2 304.2 L195.3 305.5 L200.3 306.8 L205.4 308.2 L210.4 309.8 L215.4 311.4 L220.5 313 L225.5 314.8 L230.5 316.6 L235.6 318.5 L240.6 320.5 L245.6 322.6 L250.7 324.8 L255.7 327" stroke="#e0a63c" stroke-width="1.3" fill="none" stroke-linecap="round"/>
<path d="M155 297.5 L160.9 297.9 L166.8 298.4 L172.7 298.9 L178.6 299.6 L184.5 300.2 L190.4 301 L196.3 301.8 L202.2 302.7 L208.1 303.7 L214 304.8 L219.9 305.9 L225.8 307 L231.7 308.3 L237.6 309.6 L243.5 311 L249.4 312.5 L255.3 314 L261.2 315.6 L267.1 317.3 L273 319" stroke="#3a3234" stroke-width="1.1" fill="none" stroke-linecap="round"/>
<path d="M155 297.5 L160.3 298 L165.7 298.6 L171 299.3 L176.4 300 L181.8 300.9 L187.1 301.8 L192.5 302.8 L197.8 303.9 L203.2 305 L208.5 306.2 L213.9 307.6 L219.2 309 L224.6 310.4 L229.9 312 L235.2 313.6 L240.6 315.3 L245.9 317.1 L251.3 319 L256.6 321 L262 323" stroke="#e0a63c" stroke-width="1.1" fill="none" stroke-linecap="round"/>
<path d="M155 298.2 L160.5 298.6 L166.2 299 L171.9 299.4 L177.7 300 L183.7 300.6 L189.7 301.3 L195.9 302 L202.1 302.8 L208.5 303.7 L214.9 304.5 L221.5 305.1 L228.2 305.7 L235 306.3 L241.9 306.9 L248.9 307.5 L256 308.1 L263.2 308.6 L270.6 309.3 L278 309.9 L285.6 310.7 L285.6 310.3 L278.2 309 L270.8 307.7 L263.5 306.4 L256.4 305.2 L249.3 304 L242.3 302.9 L235.5 301.9 L228.7 301 L222 300.2 L215.4 299.5 L208.9 299 L202.5 298.7 L196.2 298.4 L190 298.2 L183.9 297.9 L177.9 297.7 L172 297.4 L166.3 297.2 L160.6 297 L155 296.8Z" fill="#e61c60"/>
<path d="M155 298.2L155 296.8M159.2 298.5L159.2 296.9M163.3 298.8L163.4 297.1M167.5 299.1L167.6 297.3M171.7 299.4L171.8 297.4M175.9 299.8L176 297.6M180.1 300.2L180.2 297.8M184.2 300.6L184.4 298M188.4 301.1L188.6 298.1M192.6 301.6L192.9 298.3M196.7 302.1L197.1 298.5M200.9 302.7L201.3 298.7M205.1 303.2L205.5 298.9M209.2 303.8L209.7 299.1M213.4 304.3L213.9 299.4M217.6 304.7L218.1 299.8M221.7 305.1L222.2 300.3M225.9 305.5L226.4 300.8M230.1 305.9L230.6 301.3M234.3 306.3L234.8 301.8M238.5 306.6L238.9 302.4M242.6 307L243.1 303M246.8 307.3L247.2 303.7M251 307.7L251.4 304.4M255.2 308L255.5 305M259.4 308.3L259.7 305.8M263.6 308.7L263.8 306.5M267.8 309L268 307.2M271.9 309.4L272.1 307.9M276.1 309.8L276.3 308.7M280.3 310.1L280.4 309.4M284.5 310.6L284.5 310.1" stroke="#2a0814" stroke-width="1.3" fill="none"/>
<path d="M203 289 l11 0 c7 0 9 -8 4 -10.5 c-3 -1.5 -7 -1.2 -9 0" stroke="#4f5a66" stroke-width="1.1" fill="none"/>
<path d="M203 289 l4 0" stroke="#b0203a" stroke-width="2.2" fill="none"/>
<path d="M216 293 l12 1.5 c7 0 8 -8 3 -11 c-3 -1.5 -6 -1 -8.5 0.5" stroke="#6a7580" stroke-width="1.1" fill="none"/>
<path d="M216 293 l4 0.5" stroke="#b0203a" stroke-width="2.2" fill="none"/>
<path d="M154.5 298.4 L156.7 297.7 L159.5 296.8 L162.7 295.8 L166.2 294.6 L170.1 293.4 L174.3 292 L178.7 290.7 L183.2 289.3 L187.7 287.9 L192.3 286.5 L196.8 285.2 L201.2 283.9 L205.6 282.7 L210.2 281.4 L215.1 280.2 L220 278.9 L225.1 277.6 L230.1 276.3 L235.1 275 L240.1 273.7 L244.9 272.5 L249.4 271.2 L253.7 270 L257.7 268.8 L261.4 267.5 L264.8 266.2 L268 264.9 L271.1 263.6 L273.9 262.3 L276.7 261 L279.3 259.8 L281.8 258.5 L284.2 257.2 L286.6 256 L289 254.7 L291.4 253.4 L293.8 252.1 L296.2 250.7 L298.6 249.2 L300.9 247.8 L303.2 246.4 L305.4 245.1 L307.5 243.8 L309.5 242.6 L311.3 241.5 L312.9 240.5 L314.3 239.8 L315.5 239.1 L315.3 238.9 L314.1 239.3 L312.6 239.8 L310.8 240.4 L308.8 241 L306.6 241.7 L304.2 242.4 L301.8 243.1 L299.2 243.8 L296.6 244.5 L293.9 245.2 L291.3 245.9 L288.6 246.6 L286.1 247.3 L283.5 247.9 L280.9 248.6 L278.2 249.3 L275.6 250.1 L272.8 250.8 L270 251.6 L267 252.5 L263.9 253.4 L260.7 254.4 L257.3 255.5 L253.7 256.6 L249.8 258 L245.7 259.5 L241.3 261.2 L236.6 262.9 L231.9 264.6 L227 266.4 L222.1 268.2 L217.3 270.1 L212.4 271.9 L207.7 273.7 L203.2 275.4 L198.8 277.1 L194.6 278.8 L190.2 280.5 L185.8 282.3 L181.3 284.1 L177 285.9 L172.7 287.7 L168.7 289.4 L164.9 290.9 L161.4 292.4 L158.3 293.6 L155.7 294.7 L153.5 295.6Z" fill="#e8195e"/>
<path d="M159.3 296.9L158.1 293.7M165.4 294.9L164 291.3M171.5 292.9L170 288.8M177.6 291L175.9 286.4M183.7 289.1L181.8 283.9M189.8 287.2L187.8 281.5M195.9 285.4L193.7 279.1M202 283.7L199.7 276.7M208.2 282L205.7 274.4M214.4 280.3L211.7 272.1M220.5 278.7L217.8 269.9M226.8 277.2L223.8 267.6M233 275.6L229.8 265.4M239.2 274L235.8 263.2M245.4 272.3L241.8 261M251.6 270.6L247.8 258.8M257.8 268.7L253.7 256.6M263.8 266.5L259.8 254.7M269.8 264.1L265.8 252.8M275.8 261.5L271.9 251.1M281.6 258.6L278.1 249.4M287.3 255.6L284.2 247.7M293 252.5L290.5 246.1M298.6 249.2L296.6 244.5M304.2 245.8L302.8 242.8M309.7 242.5L309 240.9M315.3 239.2L315.1 238.9" stroke="#2a0814" stroke-width="2" fill="none"/>
<path d="M140.5 298 l2.5 -1.2 l0 2.4z" fill="#ccc"/><rect x="143" y="294" width="10" height="8" rx="1.5" fill="#e6e1e1" stroke="#c4bcbc" stroke-width="0.6"/><path d="M148 294 v8" stroke="#cfc6c6" stroke-width="0.8"/>
<path d="M164.1 357.8 L165.4 357.1 L166.8 356.4 L168.2 355.8 L169.6 355 L171 354.1 L172.3 353.2 L173.6 352.3 L174.8 351.4 L176 350.5 L177.1 349.6 L178.4 348.6 L179.6 347.6 L180.8 346.5 L182 345.3 L183 344.1 L184 342.8 L185 341.5 L185.9 340 L186.6 338.4 L187.2 336.8 L187.6 335.1 L187.8 333.4 L187.9 331.7 L187.9 330 L187.6 328.3 L187.3 326.6 L186.8 325 L186.1 323.4 L185.3 321.9 L184.4 320.5 L183.5 319.1 L182.3 317.9 L181.2 316.7 L179.9 315.6 L178.6 314.6 L177.2 313.8 L175.7 313 L174.2 312.3 L172.7 311.7 L171.2 311.2 L169.6 310.8 L168 310.5 L166.4 310.2 L164.7 310.1 L163.1 310.1 L161.5 310.2 L159.9 310.4 L158.3 310.6 L156.7 311 L155.1 311.4 L153.6 312 L152 312.6 L150.6 313.4 L149.2 314.2 L147.8 315.2 L146.6 316.2 L145.3 317.3 L144.2 318.5 L143.2 319.8 L142.3 321.2 L141.4 322.6 L140.7 324.1 L140.1 325.7 L139.6 327.3 L139.3 328.9 L139.1 330.6 L139.1 332.4 L139.3 334.1 L139.7 335.8 L140.3 337.4 L141.2 339 L142.2 340.4 L143.4 341.7 L144.7 342.8 L146.1 343.8 L147.6 344.6 L149.1 345.3 L150.7 345.8 L152.4 346.1 L154.1 346.3 L155.7 346.4 L157.4 346.3 L159.1 346 L160.7 345.6 L162.3 345 L163.8 344.3 L165.3 343.4 L166.6 342.4 L167.9 341.2 L169 339.9 L169.9 338.4 L170.7 336.9 L171.3 335.3 L171.7 333.6 L171.9 331.9 L171.8 330.1 L171.5 328.4 L170.9 326.7 L170 325.1 L168.9 323.7 L167.6 322.5 L166.2 321.5 L164.6 320.7 L162.9 320.1 L161.3 319.8 L159.5 319.7 L157.8 319.8 L156.1 320.1 L154.4 320.7 L152.9 321.5 L151.6 322.6 L150.4 323.9 L149.5 325.3 L148.8 326.9 L148.4 328.5 L148.2 330.1 L148.3 331.7 L148.5 333.2 L148.8 334.8 L149.3 335.8 L150.2 335.3 L149.8 334.4 L149.5 333.1 L149.3 331.7 L149.5 330.3 L150 329 L150.7 327.8 L151.5 326.7 L152.5 325.8 L153.5 325.1 L154.7 324.5 L155.8 324 L157 323.6 L158.2 323.3 L159.5 323.2 L160.7 323.4 L162 323.6 L163.2 324 L164.3 324.6 L165.3 325.3 L166.2 326.2 L166.9 327.2 L167.5 328.2 L167.9 329.3 L168.1 330.5 L168.2 331.7 L168 333 L167.7 334.2 L167.3 335.4 L166.7 336.5 L165.9 337.6 L165.1 338.6 L164.2 339.4 L163.1 340.2 L162 340.9 L160.8 341.4 L159.6 341.9 L158.3 342.2 L157 342.4 L155.7 342.4 L154.4 342.4 L153.1 342.2 L151.8 341.9 L150.5 341.5 L149.3 341 L148.2 340.4 L147.1 339.6 L146.2 338.8 L145.3 337.9 L144.6 336.8 L144 335.8 L143.6 334.6 L143.3 333.4 L143.2 332.1 L143.2 330.9 L143.3 329.6 L143.6 328.3 L144 327 L144.5 325.8 L145.1 324.6 L145.8 323.5 L146.6 322.4 L147.4 321.3 L148.3 320.3 L149.3 319.4 L150.4 318.6 L151.5 317.8 L152.7 317.2 L153.9 316.5 L155.1 316 L156.4 315.6 L157.7 315.2 L159.1 314.9 L160.4 314.7 L161.8 314.5 L163.1 314.5 L164.5 314.5 L165.9 314.6 L167.2 314.8 L168.6 315.1 L169.9 315.4 L171.2 315.9 L172.5 316.4 L173.7 317 L174.8 317.6 L176 318.4 L177.1 319.2 L178 320.1 L179 321 L179.9 322 L180.6 323.1 L181.3 324.2 L181.9 325.4 L182.4 326.6 L182.7 327.8 L183 329.1 L183.2 330.4 L183.2 331.6 L183.1 332.9 L182.9 334.2 L182.7 335.4 L182.2 336.6 L181.7 337.8 L181 338.9 L180.2 339.9 L179.4 341 L178.5 342 L177.5 343 L176.4 343.9 L175.4 344.8 L174.2 345.7 L173 346.6 L171.8 347.5 L170.6 348.4 L169.5 349.2 L168.3 350 L167.1 350.7 L165.9 351.4 L164.6 352 L163.3 352.6 L161.9 353.2Z" fill="#f7a233"/>
<path d="M164.1 357.8L161.9 353.2M170.1 354.6L167.6 350.4M175.7 350.6L172.8 346.7M181 346.3L177.7 342.8M185.5 340.7L181.5 338.1M187.8 333.4L183.1 332.9M187.1 326.1L182.6 327.2M183.7 319.5L179.9 322.1M178.3 314.5L175.7 318.2M171.8 311.4L170.3 315.6M164.7 310.1L164.5 314.5M157.6 310.8L158.4 315M150.9 313.2L152.8 317.1M145.1 317.6L148.1 320.6M141 323.5L144.7 325.5M139.1 330.7L143.2 330.9M140.6 338L144.3 336.3M145.7 343.5L148.2 340.4M152.8 346.2L153.4 342.3M160 345.7L159.2 341.9M166.7 342.3L164.2 339.4M170.9 336.3L167.5 334.7M171.6 328.8L167.9 329.3M167.3 322.3L165 325.1M160.2 319.7L159.7 323.3M152.8 321.6L154.6 324.6M148.6 327.6L150.3 328.4M148.8 334.5L149.8 334.4" stroke="#1c1008" stroke-width="2.4" fill="none"/>
<path d="M163.8 358.7 L167.3 359.8 L170.8 360.9 L174.3 362 L177.9 363.2 L181.6 364.3 L185.3 365.5 L189 366.6 L192.8 367.8 L196.6 369 L200.4 370.2 L204.2 371.4 L208.1 372.5 L212.1 373.5 L216.1 374.5 L220.1 375.4 L224.1 376.3 L228.2 377.2 L232.2 378 L236.3 378.8 L240.4 379.6 L244.5 380.2 L248.7 380.9 L252.8 381.4 L256.9 382 L261.1 382.4 L265.2 382.8 L269.3 383.1 L273.5 383.4 L277.6 383.6 L281.7 383.7 L285.8 383.7 L289.9 383.7 L293.9 383.5 L298 383.3 L302 383 L306 382.6 L310 382.2 L313.9 381.6 L317.8 380.9 L321.7 380.2 L321.7 379.8 L317.8 380.5 L313.8 381 L309.9 381.4 L305.9 381.7 L301.9 382 L297.9 382.1 L293.9 382.2 L289.9 382.1 L285.8 382 L281.8 381.8 L277.7 381.6 L273.6 381.2 L269.5 380.8 L265.4 380.4 L261.4 379.8 L257.3 379.3 L253.2 378.6 L249.1 377.9 L245.1 377.2 L241 376.4 L236.9 375.6 L232.9 374.8 L228.9 373.9 L224.9 373 L220.9 372.1 L216.9 371.1 L212.9 370.1 L209 369.2 L205.1 368.2 L201.2 367.3 L197.3 366.4 L193.4 365.4 L189.6 364.4 L185.9 363.4 L182.1 362.4 L178.5 361.4 L174.8 360.4 L171.2 359.4 L167.7 358.3 L164.2 357.3Z" fill="#f3ecd6"/>
<path d="M163.8 359.1 L167.3 360.1 L170.8 361.1 L174.4 362.2 L178 363.2 L181.7 364.3 L185.4 365.4 L189.1 366.5 L192.9 367.6 L196.7 368.7 L200.6 369.8 L204.4 370.9 L208.3 372 L212.3 373.1 L216.3 374.2 L220.2 375.3 L224.3 376.4 L228.3 377.5 L232.3 378.6 L236.4 379.7 L240.5 380.7 L244.6 381.8 L248.7 382.9 L252.8 384 L256.9 385 L261 386.1 L265.1 387.2 L269.3 388.2 L273.4 389.3 L277.5 390.3 L281.6 391.3 L285.7 392.4 L289.7 393.4 L293.8 394.4 L297.8 395.4 L301.9 396.4 L305.9 397.4 L309.8 398.4 L313.8 399.4 L317.7 400.3 L321.6 401.3 L321.8 400.7 L317.9 399.7 L314 398.7 L310 397.7 L306.1 396.6 L302.1 395.6 L298.1 394.5 L294 393.5 L290 392.4 L285.9 391.3 L281.9 390.2 L277.8 389.1 L273.7 388 L269.6 386.9 L265.5 385.8 L261.4 384.7 L257.3 383.6 L253.2 382.5 L249.1 381.4 L245 380.2 L240.9 379.1 L236.9 378 L232.8 376.9 L228.8 375.8 L224.7 374.7 L220.7 373.6 L216.7 372.5 L212.8 371.4 L208.8 370.3 L204.9 369.3 L201 368.2 L197.1 367.2 L193.3 366.1 L189.5 365.1 L185.8 364.1 L182 363 L178.4 362 L174.8 361 L171.2 360 L167.6 358.9 L164.2 357.9Z" fill="#e8b860"/>
<path d="M163.8 359.1L164.2 357.9M167.7 360.2L168 359M171.5 361.3L171.9 360.1M175.3 362.5L175.7 361.2M179.2 363.6L179.5 362.3M183 364.7L183.4 363.4M186.9 365.8L187.3 364.5M190.7 366.9L191.1 365.5M194.6 368.1L195 366.6M198.4 369.2L198.8 367.6M202.2 370.3L202.7 368.7M206.1 371.4L206.5 369.7M209.9 372.5L210.4 370.8M213.8 373.5L214.3 371.8M217.6 374.6L218.1 372.9M221.5 375.7L222 373.9M225.4 376.7L225.8 375M229.2 377.7L229.7 376.1M233.1 378.8L233.5 377.1M237 379.8L237.4 378.2M240.8 380.8L241.3 379.2M244.7 381.9L245.1 380.3M248.6 382.9L249 381.3M252.4 383.9L252.8 382.4M256.3 384.9L256.7 383.4M260.2 385.9L260.6 384.5M264.1 386.9L264.4 385.5M267.9 387.9L268.3 386.6M271.8 388.9L272.1 387.6M275.7 389.9L276 388.6M279.6 390.8L279.9 389.7M283.4 391.8L283.7 390.7M287.3 392.8L287.6 391.7M291.2 393.8L291.5 392.8M295.1 394.7L295.3 393.8M299 395.7L299.2 394.8M302.9 396.7L303.1 395.8M306.7 397.6L306.9 396.9M310.6 398.6L310.8 397.9M314.5 399.5L314.7 398.9M318.4 400.5L318.5 399.9" stroke="#6a4a2a" stroke-width="1" fill="none"/>
<path d="M164.2 356 L166.4 355.7 L169.1 355.3 L172.3 354.8 L176 354.4 L179.9 353.9 L184.1 353.4 L188.5 352.9 L193 352.4 L197.5 352 L201.9 351.7 L206.3 351.3 L210.4 351 L214.5 350.7 L218.6 350.4 L222.9 349.9 L227.1 349.3 L231.5 348.8 L235.8 348.2 L240.1 347.6 L244.3 347 L248.5 346.3 L252.5 345.7 L256.5 345 L260.3 344.3 L264.1 343.6 L267.9 342.8 L271.8 342 L275.7 341.2 L279.5 340.4 L283.1 339.6 L286.6 338.9 L289.9 338.2 L292.9 337.5 L295.5 337 L297.8 336.5 L299.7 336.1 L299.7 335.9 L297.8 336.1 L295.5 336.3 L292.7 336.6 L289.7 337 L286.4 337.3 L282.8 337.6 L279.1 338 L275.3 338.4 L271.3 338.7 L267.4 339.1 L263.5 339.4 L259.7 339.7 L255.9 340 L251.9 340.3 L247.8 340.6 L243.6 341 L239.3 341.3 L235 341.7 L230.7 342.1 L226.4 342.5 L222 343 L217.8 343.5 L213.6 344.2 L209.6 345 L205.5 345.8 L201.2 346.7 L196.8 347.7 L192.4 348.6 L188 349.5 L183.6 350.4 L179.5 351.2 L175.6 351.9 L172 352.6 L168.8 353.2 L166.1 353.7 L163.8 354Z" fill="#f4efdf"/>
<path d="M165 357 L180 357 L196 358.5 L214 364" stroke="#5cc0c0" stroke-width="1.5" fill="none" stroke-linecap="round"/>
<ellipse cx="196" cy="358" rx="4" ry="2.5" fill="#222" transform="rotate(15 196 358)"/>
<path d="M207 361 l11 0 c7 0 9 -8 4 -10.5 c-3 -1.5 -7 -1.2 -9 0" stroke="#4f5a66" stroke-width="1.1" fill="none"/>
<path d="M207 361 l4 0" stroke="#b0203a" stroke-width="2.2" fill="none"/>
<path d="M220 365 l12 1.5 c7 0 8 -8 3 -11 c-3 -1.5 -6 -1 -8.5 0.5" stroke="#6a7580" stroke-width="1.1" fill="none"/>
<path d="M220 365 l4 0.5" stroke="#b0203a" stroke-width="2.2" fill="none"/>
<path d="M148.5 357 l2.5 -1.2 l0 2.4z" fill="#ccc"/><rect x="151" y="353" width="10" height="8" rx="1.5" fill="#e6e1e1" stroke="#c4bcbc" stroke-width="0.6"/><path d="M156 353 v8" stroke="#cfc6c6" stroke-width="0.8"/>
<path d="M73 298.6 C73.9 285.5 83 274 94.8 274 C106.7 274 117.1 284.7 118.5 297 C119.4 308.4 107.6 315 96.7 315 C84.8 315 73 310.9 73 298.6Z" fill="url(#gTeal)"/>
<path d="M73 298.6 C73.9 285.5 83 274 94.8 274 C106.7 274 117.1 284.7 118.5 297 C119.4 308.4 107.6 315 96.7 315 C84.8 315 73 310.9 73 298.6Z" fill="url(#shade)"/>
<path d="M79.4 306.8 Q95.8 315 113 304.3" stroke="#fff" stroke-opacity="0.32" stroke-width="3.1" fill="none" stroke-linecap="round"/>
<rect x="74.9" y="278.8" width="31.6" height="26.4" rx="12.6" ry="10.6" transform="rotate(-12 90.7 292)" fill="url(#decal)"/>
<g transform="translate(91 287.5)"><use href="#logo"/></g>
<text x="91" y="302.5" font-size="4.2" fill="#555" text-anchor="middle" font-family="Liberation Sans, sans-serif">100g</text>
<ellipse cx="114.6" cy="295.7" rx="1.7" ry="3" fill="#b8d8e8" stroke="#678" stroke-width="0.5"/>
<ellipse cx="74.1" cy="301.9" rx="1" ry="2.6" fill="#3a3a3a"/>
<path d="M42 339.3 C42.8 327.9 50.7 318 61 318 C71.2 318 80.3 327.2 81.5 337.9 C82.3 347.8 72 353.5 62.5 353.5 C52.3 353.5 42 349.9 42 339.3Z" fill="url(#gOrange2)"/>
<path d="M42 339.3 C42.8 327.9 50.7 318 61 318 C71.2 318 80.3 327.2 81.5 337.9 C82.3 347.8 72 353.5 62.5 353.5 C52.3 353.5 42 349.9 42 339.3Z" fill="url(#shade)"/>
<path d="M47.5 346.4 Q61.8 353.5 76.8 344.3" stroke="#fff" stroke-opacity="0.32" stroke-width="2.7" fill="none" stroke-linecap="round"/>
<rect x="45" y="320.8" width="28" height="22.4" rx="11.2" ry="9" transform="rotate(-8 59 332)" fill="url(#decal)"/>
<g transform="translate(58.6 329.3)"><use href="#logo"/></g>
<text x="56.5" y="339" font-size="4.2" fill="#555" text-anchor="middle" font-family="Liberation Sans, sans-serif">60g</text>
<ellipse cx="78.1" cy="336.8" rx="1.7" ry="3" fill="#b8d8e8" stroke="#678" stroke-width="0.5"/>
<ellipse cx="43" cy="342.1" rx="1" ry="2.6" fill="#3a3a3a"/>
<path d="M86 348.2 C86.9 335.6 95.7 324.5 107.1 324.5 C118.6 324.5 128.7 334.8 130 346.6 C130.9 357.7 119.4 364 108.9 364 C97.4 364 86 360.1 86 348.2Z" fill="url(#gRedGold)"/>
<path d="M86 348.2 C86.9 335.6 95.7 324.5 107.1 324.5 C118.6 324.5 128.7 334.8 130 346.6 C130.9 357.7 119.4 364 108.9 364 C97.4 364 86 360.1 86 348.2Z" fill="url(#shade)"/>
<path d="M92.2 356.1 Q108 364 124.7 353.7" stroke="#fff" stroke-opacity="0.32" stroke-width="3" fill="none" stroke-linecap="round"/>
<rect x="89.6" y="328.5" width="30.4" height="22.4" rx="12.2" ry="9" transform="rotate(-6 104.8 339.7)" fill="url(#decal)"/>
<g transform="translate(103.5 337.6)"><use href="#logo"/></g>
<text x="103" y="348.5" font-size="4.2" fill="#555" text-anchor="middle" font-family="Liberation Sans, sans-serif">80g</text>
<ellipse cx="126.3" cy="345.4" rx="1.7" ry="3" fill="#b8d8e8" stroke="#678" stroke-width="0.5"/>
<ellipse cx="87.1" cy="351.4" rx="1" ry="2.6" fill="#3a3a3a"/>
</g>
<g transform="translate(0 0)">
<path d="M62.4 516 L62.4 510.5 L70.7 503 L82 503 L89 510.5 L89 516Z" fill="#b5b3ae" stroke="#9c9a95" stroke-width="0.8"/>
<path d="M66 513.5 L66 511 L71.5 506.8 L81 506.8 L85.5 511 L85.5 513.5Z" fill="#fff"/>
<path d="M39.3 515.7 L110 515.7 L119.7 541 L119.7 631 L110.5 655.3 L38 655.3 Q34.4 655.3 34.4 652 L34.4 523.6Z" fill="#645f58" stroke="#47433e" stroke-width="1.2" stroke-linejoin="round"/>
<path d="M40.5 519 L108 519 L115.5 542 L115.5 630 L108 652 L38.5 652 L38.5 524Z" fill="#6e6962"/>
<rect x="38.5" y="600" width="69" height="52" fill="#7d7870"/>
<rect x="38.5" y="519" width="36" height="41" fill="#6b625b"/>
<rect x="40" y="560" width="34.7" height="40" fill="#3d3733"/>
<rect x="95.5" y="571" width="11" height="30" fill="#4a4641"/>
<path d="M38.5 544.5 H74 M38.5 600 H106.5 M38.5 625.5 H106.5 M106.5 543 V652 M100 571 V600" stroke="#3f3b37" stroke-width="1.1" fill="none"/>
<circle cx="51.4" cy="532.4" r="10.5" fill="#75665f" stroke="#7a2e2e" stroke-width="1.3"/>
<text transform="translate(56.5 532.6) rotate(-90)" font-size="14" fill="#e4e6ee" text-anchor="middle" font-family="Liberation Serif, Noto Serif CJK SC, serif">牙</text>
<text transform="translate(56.6 557.6) rotate(-90)" font-size="15" fill="#e4e6ee" text-anchor="middle" font-family="Liberation Serif, Noto Serif CJK SC, serif">紅</text>
<text transform="translate(67 558.5) rotate(-90)" font-size="6.2" fill="#d4d2ce" font-weight="700" letter-spacing="0.5" font-family="Liberation Sans, Noto Sans CJK JP, sans-serif">KOHGA</text>
<circle cx="53.5" cy="579" r="8" fill="#4a2636" stroke="#7a2a50" stroke-width="0.9"/>
<g transform="translate(53.5 579) scale(1.15) rotate(-60)"><use href="#logo"/></g>
<rect x="74.5" y="527" width="29" height="43.5" fill="#fff"/>
<rect x="74.5" y="570" width="21" height="31.5" fill="#fff"/>
<rect x="74.5" y="527" width="29" height="8.3" fill="#0d0d0d"/>
<path d="M76 529 h4.6 l-1 4 h-4.6z" fill="#fff"/><path d="M77.4 530.1 h1.8 l-0.45 1.8 h-1.8z" fill="#0d0d0d"/>
<path d="M81 529 h4.6 l-2.6 4 h-2.2 l1.7 -2.8 h-2.2z" fill="#fff"/>
<path d="M84 533 l2.6 -4 h1.6 l-2.6 4z" fill="#fff"/>
<text x="89" y="539.3" font-size="2.5" fill="#333" text-anchor="middle" font-family="Liberation Sans, Noto Sans CJK JP, sans-serif">紅牙タイラバーフリーα</text>
<text x="89" y="542.6" font-size="2.5" fill="#333" text-anchor="middle" font-family="Liberation Sans, Noto Sans CJK JP, sans-serif">スターターセット</text>
<rect x="74.5" y="544.3" width="29" height="26" fill="#ffe500"/>
<text x="76.6" y="560.5" font-size="16.5" font-weight="700" fill="#111" font-family="Liberation Sans, Noto Sans CJK JP, sans-serif">A</text>
<text x="88.4" y="560.3" font-size="5.4" font-weight="700" fill="#111" textLength="11.5" lengthAdjust="spacingAndGlyphs" font-family="Liberation Sans, Noto Sans CJK JP, sans-serif">セット</text>
<rect x="77" y="562.6" width="23.6" height="3.1" rx="0.6" fill="#3a3a18"/>
<text x="88.8" y="565.1" font-size="2.4" fill="#ffe500" text-anchor="middle" font-family="Liberation Sans, Noto Sans CJK JP, sans-serif">60g, 80g, 100g</text>
<rect x="77" y="570.8" width="13.5" height="2.2" fill="#c4c8d0"/>
<text x="77.2" y="579" font-size="4.4" font-weight="700" fill="#111" textLength="12.7" lengthAdjust="spacingAndGlyphs" font-family="Liberation Sans, Noto Sans CJK JP, sans-serif">3個入り</text>
<rect x="77" y="580.6" width="13.5" height="2.2" fill="#c4c8d0"/>
<text x="77.2" y="588.8" font-size="4.4" font-weight="700" fill="#111" textLength="13.8" lengthAdjust="spacingAndGlyphs" font-family="Liberation Sans, Noto Sans CJK JP, sans-serif">2セット入り</text>
<rect x="77" y="590.8" width="13.5" height="2.2" fill="#c4c8d0"/>
<text x="77.2" y="599" font-size="4.4" font-weight="700" fill="#111" textLength="12.7" lengthAdjust="spacingAndGlyphs" font-family="Liberation Sans, Noto Sans CJK JP, sans-serif">3本入り</text>
<rect x="112.9" y="574" width="7.4" height="25.5" rx="0.8" fill="#ee3b2d"/>
<rect x="112.9" y="574" width="2" height="25.5" fill="#d42c20"/>
<path d="M33.6 546 v7 M33.6 596 v7 M33.6 640 v5" stroke="#2f2c29" stroke-width="2.2"/>
<ellipse cx="73.6" cy="614.6" rx="11.6" ry="10.4" fill="#6f7d34" stroke="#4d5a2a" stroke-width="1.6"/>
<ellipse cx="73.6" cy="615" rx="7.2" ry="6.4" fill="#8f8576" opacity="0.95"/>
<g transform="translate(73.6 613.4) scale(0.45)" opacity="0.75"><use href="#logo"/></g>
<ellipse cx="58" cy="643.4" rx="9.8" ry="8.6" fill="#f0641e" stroke="#c8461a" stroke-width="1.6"/>
<ellipse cx="58" cy="643.8" rx="6.1" ry="5.3" fill="#8f8576" opacity="0.95"/>
<g transform="translate(58 642.2) scale(0.45)" opacity="0.75"><use href="#logo"/></g>
<ellipse cx="88.7" cy="642.4" rx="10.7" ry="9.6" fill="#7e2630" stroke="#5c1c24" stroke-width="1.6"/>
<ellipse cx="88.7" cy="642.8" rx="6.6" ry="6" fill="#8f8576" opacity="0.95"/>
<g transform="translate(88.7 641.2) scale(0.45)" opacity="0.75"><use href="#logo"/></g>
</g>
<g transform="translate(350 0)">
<path d="M62.4 516 L62.4 510.5 L70.7 503 L82 503 L89 510.5 L89 516Z" fill="#b5b3ae" stroke="#9c9a95" stroke-width="0.8"/>
<path d="M66 513.5 L66 511 L71.5 506.8 L81 506.8 L85.5 511 L85.5 513.5Z" fill="#fff"/>
<path d="M39.3 515.7 L110 515.7 L119.7 541 L119.7 631 L110.5 655.3 L38 655.3 Q34.4 655.3 34.4 652 L34.4 523.6Z" fill="#645f58" stroke="#47433e" stroke-width="1.2" stroke-linejoin="round"/>
<path d="M40.5 519 L108 519 L115.5 542 L115.5 630 L108 652 L38.5 652 L38.5 524Z" fill="#6e6962"/>
<rect x="38.5" y="600" width="69" height="52" fill="#7d7870"/>
<rect x="38.5" y="519" width="36" height="41" fill="#6b625b"/>
<rect x="40" y="560" width="34.7" height="40" fill="#3d3733"/>
<rect x="95.5" y="571" width="11" height="30" fill="#4a4641"/>
<path d="M38.5 544.5 H74 M38.5 600 H106.5 M38.5 625.5 H106.5 M106.5 543 V652 M100 571 V600" stroke="#3f3b37" stroke-width="1.1" fill="none"/>
<circle cx="51.4" cy="532.4" r="10.5" fill="#75665f" stroke="#7a2e2e" stroke-width="1.3"/>
<text transform="translate(56.5 532.6) rotate(-90)" font-size="14" fill="#e4e6ee" text-anchor="middle" font-family="Liberation Serif, Noto Serif CJK SC, serif">牙</text>
<text transform="translate(56.6 557.6) rotate(-90)" font-size="15" fill="#e4e6ee" text-anchor="middle" font-family="Liberation Serif, Noto Serif CJK SC, serif">紅</text>
<text transform="translate(67 558.5) rotate(-90)" font-size="6.2" fill="#d4d2ce" font-weight="700" letter-spacing="0.5" font-family="Liberation Sans, Noto Sans CJK JP, sans-serif">KOHGA</text>
<circle cx="53.5" cy="579" r="8" fill="#4a2636" stroke="#7a2a50" stroke-width="0.9"/>
<g transform="translate(53.5 579) scale(1.15) rotate(-60)"><use href="#logo"/></g>
<rect x="74.5" y="527" width="29" height="43.5" fill="#fff"/>
<rect x="74.5" y="570" width="21" height="31.5" fill="#fff"/>
<rect x="74.5" y="527" width="29" height="8.3" fill="#0d0d0d"/>
<path d="M76 529 h4.6 l-1 4 h-4.6z" fill="#fff"/><path d="M77.4 530.1 h1.8 l-0.45 1.8 h-1.8z" fill="#0d0d0d"/>
<path d="M81 529 h4.6 l-2.6 4 h-2.2 l1.7 -2.8 h-2.2z" fill="#fff"/>
<path d="M84 533 l2.6 -4 h1.6 l-2.6 4z" fill="#fff"/>
<text x="89" y="539.3" font-size="2.5" fill="#333" text-anchor="middle" font-family="Liberation Sans, Noto Sans CJK JP, sans-serif">紅牙タイラバーフリーα</text>
<text x="89" y="542.6" font-size="2.5" fill="#333" text-anchor="middle" font-family="Liberation Sans, Noto Sans CJK JP, sans-serif">スターターセット</text>
<rect x="74.5" y="544.3" width="29" height="26" fill="#ffe500"/>
<text x="76.6" y="560.5" font-size="16.5" font-weight="700" fill="#111" font-family="Liberation Sans, Noto Sans CJK JP, sans-serif">B</text>
<text x="88.4" y="560.3" font-size="5.4" font-weight="700" fill="#111" textLength="11.5" lengthAdjust="spacingAndGlyphs" font-family="Liberation Sans, Noto Sans CJK JP, sans-serif">セット</text>
<rect x="77" y="562.6" width="23.6" height="3.1" rx="0.6" fill="#3a3a18"/>
<text x="88.8" y="565.1" font-size="2.4" fill="#ffe500" text-anchor="middle" font-family="Liberation Sans, Noto Sans CJK JP, sans-serif">60g, 80g, 100g</text>
<rect x="77" y="570.8" width="13.5" height="2.2" fill="#c4c8d0"/>
<text x="77.2" y="579" font-size="4.4" font-weight="700" fill="#111" textLength="12.7" lengthAdjust="spacingAndGlyphs" font-family="Liberation Sans, Noto Sans CJK JP, sans-serif">3個入り</text>
<rect x="77" y="580.6" width="13.5" height="2.2" fill="#c4c8d0"/>
<text x="77.2" y="588.8" font-size="4.4" font-weight="700" fill="#111" textLength="13.8" lengthAdjust="spacingAndGlyphs" font-family="Liberation Sans, Noto Sans CJK JP, sans-serif">2セット入り</text>
<rect x="77" y="590.8" width="13.5" height="2.2" fill="#c4c8d0"/>
<text x="77.2" y="599" font-size="4.4" font-weight="700" fill="#111" textLength="12.7" lengthAdjust="spacingAndGlyphs" font-family="Liberation Sans, Noto Sans CJK JP, sans-serif">3本入り</text>
<rect x="112.9" y="574" width="7.4" height="25.5" rx="0.8" fill="#ee3b2d"/>
<rect x="112.9" y="574" width="2" height="25.5" fill="#d42c20"/>
<path d="M33.6 546 v7 M33.6 596 v7 M33.6 640 v5" stroke="#2f2c29" stroke-width="2.2"/>
<ellipse cx="73.6" cy="614.6" rx="11.6" ry="10.4" fill="#2f7a5c" stroke="#24604a" stroke-width="1.6"/>
<ellipse cx="73.6" cy="615" rx="7.2" ry="6.4" fill="#8f8576" opacity="0.95"/>
<g transform="translate(73.6 613.4) scale(0.45)" opacity="0.75"><use href="#logo"/></g>
<ellipse cx="58" cy="643.4" rx="9.8" ry="8.6" fill="#d8401e" stroke="#a8301a" stroke-width="1.6"/>
<ellipse cx="58" cy="643.8" rx="6.1" ry="5.3" fill="#8f8576" opacity="0.95"/>
<g transform="translate(58 642.2) scale(0.45)" opacity="0.75"><use href="#logo"/></g>
<ellipse cx="88.7" cy="642.4" rx="10.7" ry="9.6" fill="#a8702a" stroke="#7a4c1c" stroke-width="1.6"/>
<ellipse cx="88.7" cy="642.8" rx="6.6" ry="6" fill="#8f8576" opacity="0.95"/>
<g transform="translate(88.7 641.2) scale(0.45)" opacity="0.75"><use href="#logo"/></g>
</g>
</svg>
<div class="sh" style="left:0;top:119px"><span class="big">A</span><span class="kana">セット</span></div>
<div class="sh" style="left:350px;top:119px"><span class="big">B</span><span class="kana">セット</span></div>
<div class="sub" style="left:0;top:158px">（60g,80g,100g）</div>
<div class="sub" style="left:350px;top:158px">（60g,80g,100g）</div>

<div class="desc" style="left:151.5px;top:515px">テッパンセット。<br>まずはこれから<br>スタート。<br>迷わず使える<br>テッパンカラー。</div>
<div class="desc" style="left:509.5px;top:515px">誘いセット。<br>少し喰い渋った時<br>効果的なカラー。</div>
</body></html>
